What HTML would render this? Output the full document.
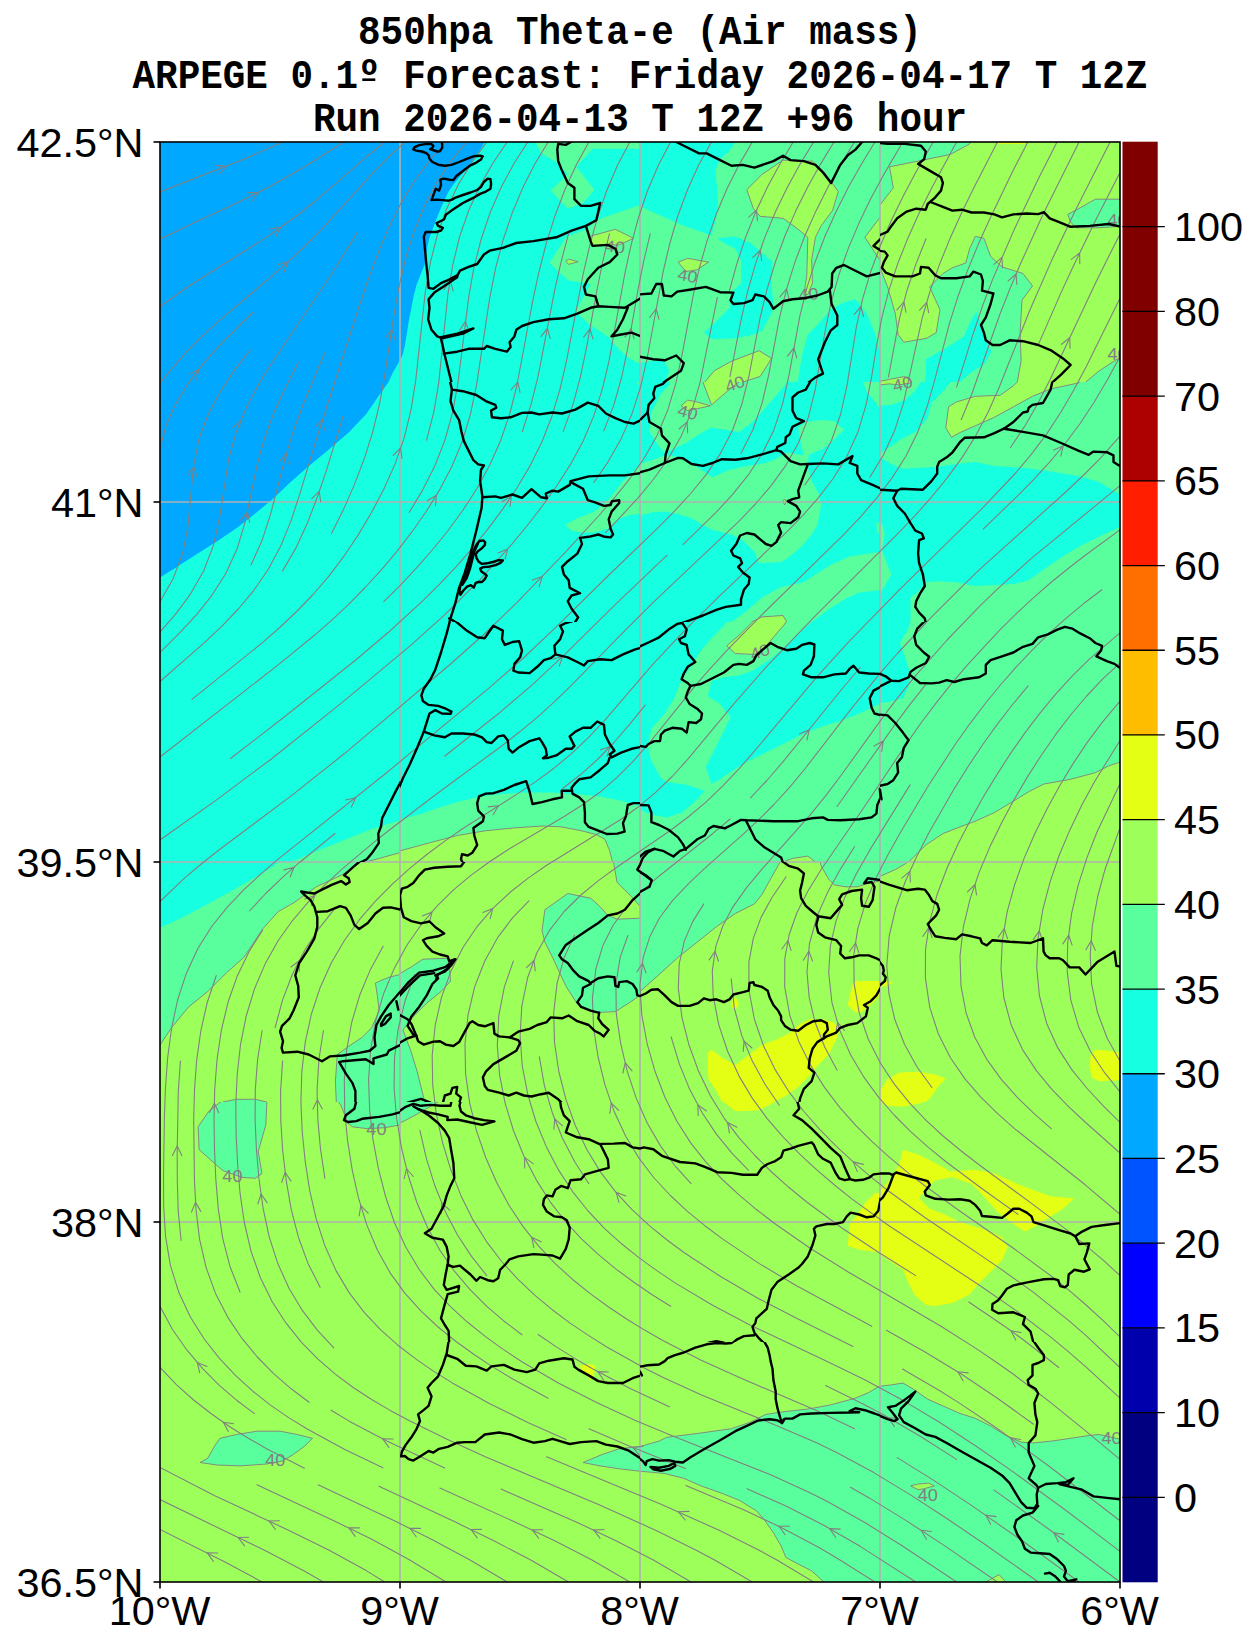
<!DOCTYPE html>
<html><head><meta charset="utf-8"><title>850hpa Theta-e</title>
<style>
html,body{margin:0;padding:0;background:#fff;}
body{width:1259px;height:1648px;overflow:hidden;font-family:"Liberation Sans",sans-serif;}
svg{display:block;}
.t{font-family:"Liberation Mono",monospace;font-weight:bold;font-size:37.6px;fill:#000;text-anchor:middle;}
.l{font-family:"Liberation Sans",sans-serif;font-size:37px;fill:#000;}
.c{font-family:"Liberation Sans",sans-serif;font-size:16px;fill:#808080;}
.s{fill:none;stroke:#808080;stroke-width:1.1;stroke-linecap:round;stroke-linejoin:round;}
.b{fill:none;stroke:#000;stroke-width:2.4;stroke-linejoin:round;stroke-linecap:round;}
.g{stroke:#b0b0b0;stroke-width:1.6;fill:none;}
.k{stroke:#808080;stroke-width:1;fill-opacity:1;}
</style></head><body>
<svg width="1259" height="1648" viewBox="0 0 1259 1648">
<rect x="0" y="0" width="1259" height="1648" fill="#ffffff"/>
<text class="t" transform="translate(640,44) scale(1,1.07)">850hpa Theta-e (Air mass)</text>
<text class="t" transform="translate(640,88.3) scale(1,1.07)">ARPEGE 0.1º Forecast: Friday 2026-04-17 T 12Z</text>
<text class="t" transform="translate(640,130.5) scale(1,1.07)">Run 2026-04-13 T 12Z +96 hour</text>
<rect x="362.3" y="78.4" width="13" height="2.6" fill="#000"/>
<defs><clipPath id="mc"><rect x="160" y="142" width="960" height="1440"/></clipPath></defs>
<g clip-path="url(#mc)">
<rect x="160" y="142" width="960" height="1440" fill="#9dff5a"/>
<clipPath id="t0"><rect x="160" y="142" width="240" height="240"/></clipPath><g clip-path="url(#t0)"><rect x="160" y="142" width="240" height="240" fill="#16ffe1"/></g>
<clipPath id="t1"><rect x="400" y="142" width="240" height="240"/></clipPath><g clip-path="url(#t1)"><rect x="400" y="142" width="240" height="240" fill="#16ffe1"/><path d="M535.3 138.2 L535.3 142.0 L541.1 153.4 L558.2 163.0 L567.8 174.4 L550.6 190.6 L567.8 208.7 L583.0 203.0 L594.4 189.7 L576.3 166.8 L583.0 159.2 L592.5 148.7 L647.8 148.7 L647.8 138.2Z" fill="#5aff9d"/><path d="M549.6 263.0 L565.8 237.3 L586.8 228.7 L598.3 219.2 L640.0 204.9 L647.8 203.0 L647.8 366.9 L640.0 364.1 L630.7 359.3 L619.2 349.8 L607.8 336.4 L588.7 324.0 L575.4 311.7 L590.6 284.0 L567.8 280.2Z" fill="#5aff9d"/><path d="M589.7 236.4 L615.4 229.3 L633.5 238.3 L619.2 244.9 L606.8 244.9 L592.5 245.9Z" fill="#9dff5a" stroke="#808080" stroke-width="0.9"/><path d="M565.8 261.1 L568.7 259.2 L578.2 261.7 L568.7 264.4Z" fill="#9dff5a" stroke="#808080" stroke-width="0.9"/></g>
<clipPath id="t2"><rect x="640" y="142" width="240" height="240"/></clipPath><g clip-path="url(#t2)"><rect x="640" y="142" width="240" height="240" fill="#5aff9d"/><path d="M636.2 138.2 L735.3 138.2 L735.3 142.0 L729.6 150.6 L720.1 159.2 L715.3 170.6 L717.2 189.7 L718.2 204.9 L715.3 222.1 L711.5 235.4 L697.2 230.6 L681.9 224.9 L666.7 218.3 L651.4 211.6 L640.0 205.9 L636.2 204.9Z" fill="#16ffe1"/><path d="M717.2 238.3 L735.3 236.4 L750.6 243.0 L763.9 254.5 L772.5 262.1 L771.5 281.2 L773.4 305.9 L771.5 313.6 L762.0 330.7 L754.4 334.5 L735.3 338.3 L712.4 339.3 L703.9 332.6 L716.3 321.2 L729.6 307.8 L730.5 294.5 L735.3 288.8 L741.0 283.1 L741.0 260.2 L735.3 248.8 L723.9 243.0Z" fill="#16ffe1"/><path d="M855.4 299.3 L866.8 313.6 L874.5 332.6 L880.0 351.7 L887.8 361.2 L887.8 389.8 L796.3 389.8 L802.0 355.5 L807.8 334.5 L819.2 323.1 L830.6 309.8 L842.1 303.1Z" fill="#16ffe1"/><path d="M636.2 363.1 L640.0 363.1 L662.9 359.3 L669.5 370.8 L664.8 382.0 L636.2 389.8Z" fill="#16ffe1"/><path d="M746.8 189.7 L762.0 174.4 L783.0 160.1 L798.2 161.1 L812.5 161.1 L823.0 170.6 L838.3 191.6 L832.5 210.6 L821.1 225.9 L815.4 237.3 L811.6 260.2 L812.5 283.1 L807.8 294.5 L803.9 294.5 L806.8 275.4 L807.8 237.3 L796.3 227.8 L783.0 218.3 L760.1 216.3 L753.4 208.7Z" fill="#9dff5a" stroke="#808080" stroke-width="0.9"/><path d="M678.1 262.1 L687.7 258.3 L708.6 262.1 L697.2 269.7 L685.8 271.6Z" fill="#9dff5a" stroke="#808080" stroke-width="0.9"/><path d="M704.8 382.0 L714.3 370.8 L731.5 361.2 L759.1 350.7 L771.5 358.4 L760.1 376.5 L742.9 382.0 L735.3 389.8 L702.9 389.8Z" fill="#9dff5a" stroke="#808080" stroke-width="0.9"/><path d="M880.0 217.3 L864.9 237.3 L880.0 260.2 L887.8 264.0 L887.8 214.4Z" fill="#9dff5a" stroke="#808080" stroke-width="0.9"/></g>
<clipPath id="t3"><rect x="880" y="142" width="240" height="240"/></clipPath><g clip-path="url(#t3)"><rect x="880" y="142" width="240" height="240" fill="#9dff5a"/><path d="M876.2 138.2 L971.5 138.2 L969.6 143.9 L950.5 154.4 L918.1 161.1 L889.5 166.8 L893.3 187.8 L880.0 204.9 L876.2 208.7Z" fill="#5aff9d" stroke="#808080" stroke-width="0.9"/><path d="M876.2 267.8 L880.0 267.8 L887.6 286.9 L895.3 313.6 L898.1 334.5 L903.8 342.2 L926.7 338.3 L936.2 332.6 L940.0 309.8 L929.6 286.9 L942.9 273.5 L952.4 267.8 L965.8 263.0 L969.6 248.8 L975.3 236.4 L983.9 238.3 L990.6 256.4 L1002.0 266.9 L1023.0 273.5 L1032.5 285.9 L1022.0 300.2 L1020.1 332.6 L1021.1 361.2 L1017.3 382.0 L1017.3 389.8 L876.2 389.8Z" fill="#5aff9d" stroke="#808080" stroke-width="0.9"/><path d="M1067.8 214.4 L1070.6 222.1 L1076.3 227.8 L1097.3 227.8 L1127.8 225.9 L1127.8 199.2 L1095.4 199.2 L1080.2 207.8Z" fill="#5aff9d" stroke="#808080" stroke-width="0.9"/><path d="M1120.0 357.4 L1099.2 370.8 L1085.9 382.0 L1082.1 389.8 L1127.8 389.8 L1127.8 351.7Z" fill="#5aff9d" stroke="#808080" stroke-width="0.9"/><path d="M876.2 382.0 L889.5 379.3 L904.8 376.5 L912.4 382.0 L912.4 389.8 L876.2 389.8Z" fill="#9dff5a" stroke="#808080" stroke-width="0.9"/><path d="M925.8 359.3 L942.9 349.8 L963.9 336.4 L969.6 323.1 L976.3 311.7 L983.9 332.6 L991.5 351.7 L984.8 364.1 L969.6 373.6 L960.1 382.0 L956.3 389.8 L923.8 389.8 L925.8 370.8Z" fill="#16ffe1"/><path d="M998.2 141.0 L1024.9 141.0 L1024.9 143.9 L998.2 143.9Z" fill="#e4ff13"/></g>
<clipPath id="t4"><rect x="160" y="382" width="240" height="240"/></clipPath><g clip-path="url(#t4)"><rect x="160" y="382" width="240" height="240" fill="#16ffe1"/></g>
<clipPath id="t5"><rect x="400" y="382" width="240" height="240"/></clipPath><g clip-path="url(#t5)"><rect x="400" y="382" width="240" height="240" fill="#16ffe1"/><path d="M564.9 525.0 L577.3 518.3 L594.4 511.6 L609.7 498.3 L623.0 481.1 L640.0 464.9 L647.8 458.3 L647.8 511.6 L640.0 513.5 L628.8 515.4 L617.3 519.3 L607.8 528.8 L594.4 532.6 L581.1 532.6 L571.6 530.7Z" fill="#5aff9d"/><path d="M635.4 378.2 L637.3 383.9 L647.8 387.7 L647.8 378.2Z" fill="#5aff9d"/></g>
<clipPath id="t6"><rect x="640" y="382" width="240" height="240"/></clipPath><g clip-path="url(#t6)"><rect x="640" y="382" width="240" height="240" fill="#16ffe1"/><path d="M670.5 378.2 L668.6 385.8 L661.0 393.4 L651.4 412.5 L649.5 431.6 L659.1 446.8 L664.8 452.9 L685.8 443.0 L697.2 435.4 L710.5 427.8 L725.8 429.7 L739.1 431.9 L752.5 422.0 L769.6 403.0 L781.1 389.6 L790.6 378.2Z" fill="#5aff9d"/><path d="M636.2 464.4 L640.0 464.0 L651.4 460.2 L664.8 455.4 L681.9 457.3 L695.3 465.9 L712.4 477.3 L729.6 469.7 L746.8 465.9 L765.8 463.0 L777.3 458.3 L786.8 452.5 L803.9 455.4 L801.1 444.9 L798.2 427.8 L805.8 422.0 L821.1 420.1 L834.4 421.1 L844.0 429.7 L834.4 439.2 L823.0 448.7 L808.7 454.8 L807.8 467.8 L811.6 481.1 L819.2 494.5 L821.1 505.9 L817.3 525.0 L811.6 534.5 L802.0 545.9 L788.7 557.4 L781.1 562.1 L759.1 563.1 L754.4 551.7 L742.9 540.2 L731.5 534.5 L712.4 529.7 L701.0 524.0 L691.5 518.3 L676.2 513.5 L662.9 511.6 L651.4 512.6 L640.0 515.4 L636.2 515.4Z" fill="#5aff9d"/><path d="M731.5 629.8 L731.5 622.0 L746.8 610.8 L762.0 597.4 L781.1 586.9 L803.9 582.2 L815.4 574.5 L830.6 565.0 L849.7 556.4 L880.0 551.7 L887.8 550.7 L887.8 589.8 L880.0 590.2 L859.2 592.6 L845.9 598.4 L830.6 607.9 L811.6 622.0 L807.8 629.8Z" fill="#5aff9d"/><path d="M863.0 378.2 L863.0 382.0 L866.8 391.5 L874.5 401.1 L880.0 408.7 L887.8 410.6 L887.8 378.2Z" fill="#5aff9d"/><path d="M876.4 523.1 L887.8 519.3 L887.8 536.4 L877.3 532.6Z" fill="#5aff9d"/><path d="M702.9 382.0 L711.5 404.9 L724.8 393.4 L731.5 387.7 L739.1 382.0 L739.1 378.2 L702.9 378.2Z" fill="#9dff5a" stroke="#808080" stroke-width="0.9"/><path d="M681.0 405.8 L687.7 400.1 L697.2 402.0 L710.5 405.8 L697.2 408.7 L687.7 410.6Z" fill="#9dff5a" stroke="#808080" stroke-width="0.9"/><path d="M751.5 622.0 L762.0 616.9 L783.0 615.5 L786.8 622.0 L786.8 629.8 L751.5 629.8Z" fill="#9dff5a" stroke="#808080" stroke-width="0.9"/><path d="M783.0 500.6 L784.9 499.2 L786.4 502.1 L784.5 505.0Z" fill="#9dff5a" stroke="#808080" stroke-width="0.9"/></g>
<clipPath id="t7"><rect x="880" y="382" width="240" height="240"/></clipPath><g clip-path="url(#t7)"><rect x="880" y="382" width="240" height="240" fill="#5aff9d"/><path d="M876.2 405.8 L891.4 404.9 L904.8 400.1 L914.3 391.5 L921.0 382.0 L922.9 378.2 L953.4 378.2 L950.5 382.0 L942.9 391.5 L931.5 403.0 L927.7 418.2 L916.2 431.6 L901.0 439.2 L887.6 448.7 L880.0 453.5 L876.2 454.4Z" fill="#16ffe1"/><path d="M876.2 455.4 L880.0 457.3 L891.4 464.0 L902.9 468.7 L937.2 466.8 L956.3 464.0 L975.3 462.1 L994.4 465.9 L1023.0 467.8 L1051.6 471.6 L1080.2 476.4 L1099.2 482.1 L1120.0 494.5 L1127.8 498.3 L1127.8 523.1 L1120.0 526.9 L1099.2 536.4 L1080.2 545.9 L1061.1 557.4 L1042.0 570.7 L1028.7 580.3 L1013.4 584.1 L994.4 585.0 L975.3 586.0 L956.3 582.2 L937.2 581.2 L925.8 582.2 L918.1 591.7 L910.5 597.4 L910.5 629.8 L876.2 629.8Z" fill="#16ffe1"/><path d="M876.2 523.1 L881.9 524.0 L884.8 534.5 L881.9 549.8 L887.6 565.0 L891.4 574.5 L885.7 584.1 L880.0 593.6 L876.2 593.6Z" fill="#5aff9d"/><path d="M945.8 427.8 L948.6 406.8 L956.3 402.0 L975.3 396.3 L1000.1 395.3 L1013.4 385.8 L1021.1 378.2 L1085.9 378.2 L1078.3 383.0 L1051.6 388.7 L1032.5 396.3 L1013.4 406.8 L994.4 417.3 L975.3 425.8 L960.1 432.5 L951.5 437.3Z" fill="#9dff5a" stroke="#808080" stroke-width="0.9"/><path d="M876.2 378.2 L913.4 378.2 L910.5 383.0 L899.1 384.9 L889.5 383.9 L880.0 384.9 L876.2 385.8Z" fill="#9dff5a" stroke="#808080" stroke-width="0.9"/></g>
<clipPath id="t8"><rect x="160" y="622" width="240" height="240"/></clipPath><g clip-path="url(#t8)"><rect x="160" y="622" width="240" height="240" fill="#16ffe1"/><path d="M291.5 862.0 L312.5 852.7 L341.1 841.2 L369.7 829.8 L400.0 820.3 L407.8 818.3 L407.8 869.8 L291.5 869.8Z" fill="#5aff9d"/><path d="M365.9 862.0 L400.0 852.7 L407.8 850.8 L407.8 869.8 L350.6 869.8Z" fill="#9dff5a" stroke="#808080" stroke-width="0.9"/></g>
<clipPath id="t9"><rect x="400" y="622" width="240" height="240"/></clipPath><g clip-path="url(#t9)"><rect x="400" y="622" width="240" height="240" fill="#16ffe1"/><path d="M396.2 820.3 L400.0 819.3 L419.1 814.5 L438.1 807.9 L457.2 802.1 L476.3 797.4 L495.3 794.5 L523.9 792.6 L552.5 792.6 L581.1 794.5 L600.2 796.4 L619.2 800.2 L640.0 806.0 L647.8 807.9 L647.8 869.8 L396.2 869.8Z" fill="#5aff9d"/><path d="M396.2 851.7 L400.0 850.8 L428.6 843.1 L457.2 835.5 L485.8 830.7 L514.4 827.9 L543.0 826.0 L562.0 826.9 L581.1 830.7 L596.3 834.5 L604.9 839.3 L609.7 850.8 L612.5 862.0 L613.5 869.8 L396.2 869.8Z" fill="#9dff5a" stroke="#808080" stroke-width="0.9"/></g>
<clipPath id="t10"><rect x="640" y="622" width="240" height="240"/></clipPath><g clip-path="url(#t10)"><rect x="640" y="622" width="240" height="240" fill="#5aff9d"/><path d="M636.2 618.2 L729.6 618.2 L723.9 625.8 L712.4 637.3 L701.0 650.6 L691.5 665.8 L681.9 679.2 L674.3 698.3 L664.8 713.5 L651.4 728.8 L647.6 745.9 L651.4 761.2 L661.0 778.3 L666.7 782.1 L687.7 785.0 L704.8 790.7 L695.3 801.2 L681.9 812.6 L666.7 817.4 L651.4 814.5 L640.0 809.8 L636.2 808.8Z" fill="#16ffe1"/><path d="M711.5 784.0 L705.8 766.9 L716.3 745.9 L730.5 717.3 L720.1 704.0 L707.7 696.3 L711.5 681.1 L723.9 677.3 L739.1 675.4 L754.4 669.7 L771.5 658.2 L784.9 646.8 L798.2 633.4 L811.6 622.0 L815.4 618.2 L887.8 618.2 L887.8 702.1 L880.0 704.0 L859.2 713.5 L840.2 721.1 L821.1 726.8 L802.0 734.5 L783.0 744.0 L763.9 753.5 L744.8 763.1 L729.6 772.6 L720.1 779.3Z" fill="#16ffe1"/><path d="M726.7 645.8 L739.1 635.3 L752.5 622.0 L756.3 618.2 L786.8 618.2 L784.9 623.9 L773.4 637.3 L763.9 648.7 L754.4 654.4 L735.3 653.5Z" fill="#9dff5a" stroke="#808080" stroke-width="0.9"/><path d="M783.0 862.0 L792.5 858.4 L807.8 856.1 L815.4 862.0 L815.4 869.8 L783.0 869.8Z" fill="#9dff5a" stroke="#808080" stroke-width="0.9"/></g>
<clipPath id="t11"><rect x="880" y="622" width="240" height="240"/></clipPath><g clip-path="url(#t11)"><rect x="880" y="622" width="240" height="240" fill="#5aff9d"/><path d="M876.2 618.2 L911.5 618.2 L908.6 627.7 L900.0 643.0 L904.8 656.3 L909.5 671.6 L908.6 686.8 L902.9 698.3 L887.6 702.1 L880.0 703.0 L876.2 703.0Z" fill="#16ffe1"/><path d="M908.6 862.0 L925.8 845.0 L942.9 833.6 L960.1 826.9 L975.3 821.2 L994.4 812.6 L1013.4 801.2 L1028.7 791.7 L1043.9 784.0 L1070.6 779.3 L1095.4 772.6 L1108.8 765.9 L1120.0 762.1 L1127.8 759.3 L1127.8 869.8 L901.0 869.8Z" fill="#9dff5a" stroke="#808080" stroke-width="0.9"/></g>
<clipPath id="t12"><rect x="160" y="862" width="240" height="240"/></clipPath><g clip-path="url(#t12)"><rect x="160" y="862" width="240" height="240" fill="#5aff9d"/><path d="M156.2 858.2 L282.0 858.2 L274.4 865.8 L255.3 877.3 L232.4 890.6 L207.7 903.9 L182.9 917.3 L160.0 927.8 L156.2 928.7Z" fill="#16ffe1"/><path d="M365.9 858.2 L358.3 863.9 L341.1 875.3 L316.3 886.8 L293.4 903.0 L278.2 911.6 L262.9 928.7 L243.9 957.3 L226.7 972.6 L207.7 991.6 L188.6 1006.9 L171.4 1027.8 L160.0 1045.0 L156.2 1050.7 L156.2 1109.8 L224.8 1109.8 L222.9 1102.0 L236.3 1099.3 L255.3 1099.3 L266.8 1102.0 L268.7 1109.8 L337.3 1109.8 L336.3 1102.0 L335.4 1081.2 L337.3 1054.5 L350.6 1045.0 L362.1 1037.4 L371.6 1027.8 L379.2 1010.7 L377.3 995.4 L375.4 983.0 L388.8 977.3 L400.0 974.5 L407.8 972.6 L407.8 858.2Z" fill="#9dff5a" stroke="#808080" stroke-width="0.9"/></g>
<clipPath id="t13"><rect x="400" y="862" width="240" height="240"/></clipPath><g clip-path="url(#t13)"><rect x="400" y="862" width="240" height="240" fill="#9dff5a"/><path d="M612.5 858.2 L613.5 862.0 L617.1 882.4 L631.2 896.3 L644.0 910.6 L647.8 910.6 L647.8 858.2Z" fill="#5aff9d" stroke="#808080" stroke-width="0.9"/><path d="M542.0 930.6 L544.9 909.7 L567.8 893.5 L590.6 898.2 L600.2 906.8 L607.8 915.4 L617.3 919.2 L640.0 918.2 L647.8 918.2 L647.8 993.5 L640.0 995.4 L628.8 1003.1 L615.4 1011.6 L594.4 1012.6 L577.3 1004.0 L565.8 985.9 L552.5 957.3 L544.9 942.1Z" fill="#5aff9d" stroke="#808080" stroke-width="0.9"/><path d="M396.2 974.5 L400.0 973.5 L411.4 966.8 L422.9 959.2 L447.7 958.3 L449.6 968.8 L450.5 981.1 L441.0 991.6 L426.7 1003.1 L415.3 1014.5 L407.6 1024.0 L402.9 1029.8 L411.4 1052.6 L417.2 1071.7 L424.8 1102.0 L424.8 1109.8 L396.2 1109.8Z" fill="#5aff9d" stroke="#808080" stroke-width="0.9"/></g>
<clipPath id="t14"><rect x="640" y="862" width="240" height="240"/></clipPath><g clip-path="url(#t14)"><rect x="640" y="862" width="240" height="240" fill="#9dff5a"/><path d="M636.2 858.2 L781.1 858.2 L780.1 862.0 L771.5 877.3 L762.0 894.4 L754.4 903.9 L735.3 913.5 L716.3 926.8 L697.2 942.1 L678.1 957.3 L659.1 974.5 L640.0 991.6 L636.2 995.4Z" fill="#5aff9d" stroke="#808080" stroke-width="0.9"/><path d="M819.2 858.2 L821.1 865.8 L828.7 879.2 L834.4 884.9 L845.9 886.8 L857.3 886.8 L868.8 883.0 L880.0 881.1 L887.8 880.1 L887.8 858.2Z" fill="#5aff9d" stroke="#808080" stroke-width="0.9"/><path d="M707.7 1052.6 L711.5 1049.8 L722.0 1057.4 L735.3 1065.0 L746.8 1056.4 L762.0 1045.0 L777.3 1039.3 L788.7 1033.6 L800.1 1024.0 L809.7 1019.3 L823.0 1019.3 L832.5 1022.1 L840.2 1027.8 L836.3 1039.3 L828.7 1054.5 L817.3 1066.0 L807.8 1077.4 L798.2 1086.9 L784.9 1096.5 L773.4 1102.0 L769.6 1109.8 L723.9 1109.8 L722.0 1102.0 L716.3 1090.8 L708.6 1079.3 L707.7 1067.9Z" fill="#e4ff13"/><path d="M852.5 984.0 L855.4 981.1 L880.0 981.1 L887.8 981.1 L887.8 991.6 L880.0 995.4 L872.6 1003.1 L861.1 1012.6 L855.4 1012.6 L847.8 1005.0 L849.7 995.4Z" fill="#e4ff13"/><path d="M731.5 1003.1 L735.3 996.4 L739.1 1004.0 L735.3 1009.7 L731.1 1006.9Z" fill="#e4ff13"/></g>
<clipPath id="t15"><rect x="880" y="862" width="240" height="240"/></clipPath><g clip-path="url(#t15)"><rect x="880" y="862" width="240" height="240" fill="#9dff5a"/><path d="M876.2 858.2 L908.6 858.2 L906.7 863.0 L895.3 869.6 L880.0 876.3 L876.2 877.3Z" fill="#5aff9d" stroke="#808080" stroke-width="0.9"/><path d="M876.2 1090.8 L880.0 1090.8 L887.6 1079.3 L899.1 1072.6 L918.1 1071.7 L935.3 1074.5 L945.8 1078.4 L937.2 1087.9 L931.5 1096.5 L925.8 1102.0 L923.8 1109.8 L876.2 1109.8Z" fill="#e4ff13"/><path d="M1090.6 1054.5 L1095.4 1049.8 L1108.8 1050.7 L1120.0 1052.6 L1127.8 1052.6 L1127.8 1081.2 L1120.0 1080.3 L1099.2 1081.2 L1091.6 1077.4 L1089.7 1066.0Z" fill="#e4ff13"/><path d="M876.2 984.0 L883.8 981.1 L893.3 982.5 L887.6 985.0 L880.0 987.8 L876.2 987.8Z" fill="#e4ff13"/></g>
<clipPath id="t16"><rect x="160" y="1102" width="240" height="240"/></clipPath><g clip-path="url(#t16)"><rect x="160" y="1102" width="240" height="240" fill="#9dff5a"/><path d="M198.1 1126.8 L208.6 1111.5 L222.9 1100.1 L222.9 1098.2 L266.8 1098.2 L266.8 1103.9 L265.8 1124.9 L258.2 1151.6 L262.0 1173.5 L255.3 1178.3 L242.0 1177.3 L222.9 1170.6 L207.7 1157.3 L199.1 1149.7Z" fill="#5aff9d" stroke="#808080" stroke-width="0.9"/><path d="M336.3 1098.2 L341.1 1105.8 L347.8 1123.0 L352.5 1126.8 L367.8 1128.7 L384.9 1127.7 L400.0 1124.9 L407.8 1123.0 L407.8 1098.2Z" fill="#5aff9d" stroke="#808080" stroke-width="0.9"/></g>
<clipPath id="t17"><rect x="400" y="1102" width="240" height="240"/></clipPath><g clip-path="url(#t17)"><rect x="400" y="1102" width="240" height="240" fill="#9dff5a"/><path d="M396.2 1098.2 L441.0 1098.2 L438.1 1102.0 L424.8 1109.6 L411.4 1117.3 L400.0 1123.0 L396.2 1123.9Z" fill="#5aff9d" stroke="#808080" stroke-width="0.9"/></g>
<clipPath id="t18"><rect x="640" y="1102" width="240" height="240"/></clipPath><g clip-path="url(#t18)"><rect x="640" y="1102" width="240" height="240" fill="#9dff5a"/><path d="M723.9 1098.2 L723.9 1102.0 L735.3 1111.2 L758.2 1110.6 L773.4 1103.0 L777.3 1098.2Z" fill="#e4ff13"/><path d="M880.0 1192.5 L874.5 1193.5 L864.9 1203.0 L857.3 1214.5 L849.7 1224.0 L847.8 1245.9 L859.2 1249.7 L880.0 1252.6 L887.8 1253.5 L887.8 1191.6Z" fill="#e4ff13"/></g>
<clipPath id="t19"><rect x="880" y="1102" width="240" height="240"/></clipPath><g clip-path="url(#t19)"><rect x="880" y="1102" width="240" height="240" fill="#9dff5a"/><path d="M876.2 1098.2 L923.8 1098.2 L921.9 1103.0 L902.9 1106.8 L887.6 1105.8 L880.0 1102.0 L876.2 1102.0Z" fill="#e4ff13"/><path d="M876.2 1191.6 L880.0 1190.6 L891.4 1178.3 L899.1 1164.9 L902.9 1149.7 L918.1 1154.4 L935.3 1163.0 L950.5 1171.6 L975.3 1169.7 L994.4 1173.5 L1013.4 1182.1 L1032.5 1189.7 L1051.6 1196.4 L1074.4 1198.3 L1063.0 1208.8 L1047.8 1218.3 L1036.3 1225.9 L1024.9 1231.6 L1013.4 1224.0 L998.2 1212.6 L979.1 1191.6 L971.5 1184.0 L952.4 1177.3 L935.3 1180.2 L925.8 1189.7 L919.1 1198.3 L929.6 1208.8 L944.8 1214.5 L960.1 1222.1 L979.1 1227.8 L994.4 1233.5 L1002.0 1237.3 L1007.7 1246.9 L1002.0 1260.2 L990.6 1271.7 L979.1 1283.1 L969.6 1294.5 L952.4 1303.1 L935.3 1306.0 L925.8 1305.0 L914.3 1294.5 L906.7 1279.3 L902.9 1269.8 L891.4 1262.1 L880.0 1254.5 L876.2 1252.6Z" fill="#e4ff13"/></g>
<clipPath id="t20"><rect x="160" y="1342" width="240" height="240"/></clipPath><g clip-path="url(#t20)"><rect x="160" y="1342" width="240" height="240" fill="#9dff5a"/><path d="M200.0 1462.5 L207.7 1458.3 L215.3 1444.9 L220.0 1438.3 L236.3 1434.5 L257.2 1431.2 L280.1 1431.2 L297.3 1434.5 L312.5 1438.3 L304.9 1445.9 L293.4 1454.5 L282.0 1461.1 L266.8 1464.0 L240.1 1465.9 L217.2 1465.0Z" fill="#5aff9d" stroke="#808080" stroke-width="0.9"/></g>
<clipPath id="t21"><rect x="400" y="1342" width="240" height="240"/></clipPath><g clip-path="url(#t21)"><rect x="400" y="1342" width="240" height="240" fill="#9dff5a"/><path d="M583.0 1462.5 L602.1 1454.5 L619.2 1448.8 L640.0 1446.5 L647.8 1445.9 L647.8 1471.6 L640.0 1471.2 L619.2 1468.8 L600.2 1465.9Z" fill="#5aff9d" stroke="#808080" stroke-width="0.9"/><path d="M579.2 1365.8 L588.7 1363.9 L595.4 1365.8 L593.5 1377.3 L590.6 1380.1 L584.9 1372.5Z" fill="#e4ff13"/></g>
<clipPath id="t22"><rect x="640" y="1342" width="240" height="240"/></clipPath><g clip-path="url(#t22)"><rect x="640" y="1342" width="240" height="240" fill="#9dff5a"/><path d="M636.2 1447.8 L640.0 1446.5 L659.1 1441.1 L666.7 1437.3 L697.2 1433.5 L731.5 1428.7 L750.6 1422.1 L765.8 1414.4 L784.9 1411.6 L807.8 1409.1 L830.6 1404.9 L855.4 1398.2 L868.8 1392.5 L880.0 1385.8 L887.8 1381.1 L887.8 1589.8 L826.8 1589.8 L824.0 1582.0 L811.6 1570.8 L798.2 1564.1 L785.8 1557.4 L781.1 1546.0 L773.4 1532.6 L763.9 1519.3 L756.3 1510.7 L739.1 1500.2 L720.1 1492.6 L701.0 1485.9 L683.8 1478.3 L664.8 1473.5 L640.0 1471.2 L636.2 1471.2Z" fill="#5aff9d" stroke="#808080" stroke-width="0.9"/></g>
<clipPath id="t23"><rect x="880" y="1342" width="240" height="240"/></clipPath><g clip-path="url(#t23)"><rect x="880" y="1342" width="240" height="240" fill="#5aff9d"/><path d="M876.2 1386.8 L880.0 1386.2 L891.4 1384.9 L902.9 1383.0 L914.3 1389.7 L927.7 1399.2 L942.9 1405.9 L960.1 1413.5 L975.3 1418.3 L990.6 1425.9 L1005.8 1435.4 L1021.1 1442.1 L1032.5 1443.0 L1051.6 1441.1 L1070.6 1438.3 L1089.7 1435.4 L1099.2 1434.5 L1120.0 1439.2 L1127.8 1441.1 L1127.8 1338.2 L876.2 1338.2Z" fill="#9dff5a" stroke="#808080" stroke-width="0.9"/><path d="M910.5 1485.9 L918.1 1484.0 L928.6 1483.1 L934.3 1485.9 L923.8 1488.8 L918.1 1489.7Z" fill="#9dff5a" stroke="#808080" stroke-width="0.9"/><path d="M985.8 1582.0 L999.1 1574.6 L1005.8 1582.0 L1005.8 1589.8 L984.8 1589.8Z" fill="#9dff5a" stroke="#808080" stroke-width="0.9"/></g>
<path d="M150.0 132.0 L484.8 132.0 L484.8 142.0 L479.1 151.5 L472.4 160.6 L466.7 168.7 L460.1 176.3 L453.4 184.4 L448.6 191.6 L444.8 199.2 L441.0 207.8 L438.1 214.9 L435.3 222.1 L432.4 229.7 L429.6 237.3 L427.6 245.0 L426.5 252.6 L425.8 262.0 L421.0 273.4 L416.3 285.8 L413.4 297.3 L411.0 309.7 L408.6 322.1 L406.7 334.4 L404.8 345.9 L402.4 355.4 L397.2 365.0 L392.4 373.5 L388.6 382.0 L379.2 395.3 L365.9 414.4 L348.7 432.5 L327.7 450.6 L306.8 467.8 L289.6 483.0 L272.5 499.2 L255.3 513.5 L238.2 526.9 L217.2 541.2 L196.2 554.5 L175.2 567.9 L160.0 577.4 L150.0 583.0 Z" fill="#00a8ff"/>
<line class="g" x1="400" y1="142" x2="400" y2="1582"/>
<line class="g" x1="640" y1="142" x2="640" y2="1582"/>
<line class="g" x1="880" y1="142" x2="880" y2="1582"/>
<line class="g" x1="160" y1="502" x2="1120" y2="502"/>
<line class="g" x1="160" y1="862" x2="1120" y2="862"/>
<line class="g" x1="160" y1="1222" x2="1120" y2="1222"/>
<path class="s" d="M262.1 1582.0L224.5 1561.7L160.0 1529.4M323.4 1582.0L304.7 1571.2L267.0 1551.5L160.0 1499.6M384.7 1582.0L366.2 1570.6L328.7 1549.9L290.6 1531.2L214.3 1495.4L160.0 1467.4M446.0 1582.0L408.9 1559.5L371.3 1539.1L333.3 1520.4L256.9 1484.8M507.2 1582.0L470.0 1560.0L432.4 1539.8L394.4 1520.7L318.1 1484.8M568.5 1582.0L531.2 1560.3L493.4 1540.6L455.4 1522.1L379.0 1486.3M629.8 1582.0L592.5 1560.3L554.7 1540.8L516.5 1522.7L439.9 1488.1M691.1 1582.0L653.8 1560.3L616.0 1540.7L577.8 1522.7L501.0 1489.1M752.3 1582.0L715.1 1560.2L696.2 1550.2L658.2 1531.4L600.8 1505.6L485.3 1456.7L447.0 1439.3L409.0 1420.6L390.2 1410.4L371.6 1399.5L353.2 1387.5L335.3 1374.1L318.0 1359.2L301.5 1342.3L286.1 1323.2L272.2 1301.7L260.4 1277.7L251.0 1251.2L244.4 1223.0L240.1 1193.7L237.6 1164.0L236.1 1134.1L235.8 1104.1L237.2 1074.2L240.5 1044.7L246.2 1016.0L254.5 988.8L265.3 963.6L278.1 940.8L292.7 920.3L308.4 901.8L324.9 884.9L342.0 869.2L376.8 839.8L430.2 798.7L502.0 745.7L519.7 731.8L537.2 717.3L554.3 701.8L571.1 685.6L620.7 634.8L654.0 601.7L738.6 521.7L755.0 504.5L770.8 486.1L785.5 465.9L798.4 443.0L808.4 417.2L815.3 389.2L825.1 331.0L831.1 302.4L838.9 274.8L848.3 248.4L859.0 223.1L870.7 198.8L883.3 175.4L902.8 142.0M813.6 1582.0L776.5 1559.8L757.7 1549.5L719.7 1530.5L662.2 1504.8L546.6 1456.7M874.9 1582.0L838.0 1558.8L819.4 1547.8L781.7 1527.7L743.6 1509.7L685.8 1485.5M915.7 1582.0L860.6 1546.6L823.3 1525.0L785.4 1505.8L747.0 1488.8M956.6 1582.0L901.7 1545.5L864.8 1522.5L827.4 1501.5L808.4 1491.9L770.1 1474.6L673.4 1436.3L634.9 1420.2L596.6 1402.6L558.8 1383.3L521.5 1361.5L503.2 1349.4L485.2 1336.4L467.6 1322.3L450.5 1306.7L434.2 1289.3L419.2 1269.5L405.9 1247.3L394.5 1222.7L385.4 1196.0L378.3 1168.1L372.9 1139.2L369.6 1109.6L368.6 1079.8L370.6 1050.0L375.6 1021.1L383.6 993.7L394.2 968.4L406.9 945.3L421.3 924.5L437.0 906.1L453.8 889.7L471.2 875.1L489.2 862.0L507.5 850.0L563.4 817.0L581.8 805.3L599.8 792.3L617.1 777.4L633.7 760.7L649.6 742.6L695.8 685.1L711.7 666.8L727.9 649.3L761.0 615.6L844.7 533.6L861.0 516.3L876.8 497.9L891.9 478.1L905.7 456.5L917.6 432.5L927.2 406.3L935.1 378.7L949.6 322.8L958.2 295.8L967.9 269.6L978.4 244.1L989.6 219.2L1013.1 170.6L1027.8 142.0M997.4 1582.0L942.9 1544.6L906.2 1520.6L869.2 1497.9L850.5 1487.3M1038.3 1582.0L984.0 1543.7L947.6 1519.0L910.9 1495.1L873.8 1472.6L836.1 1452.3L817.1 1443.1L778.7 1426.4L701.5 1395.1L663.2 1377.6L644.3 1368.0L606.8 1347.0L588.4 1335.4L570.1 1323.1L552.2 1309.7L534.7 1295.2L517.8 1279.2L501.7 1261.5L486.7 1241.8L473.0 1219.9L461.1 1195.9L450.9 1170.1L442.6 1142.9L436.4 1114.5L432.7 1085.0L432.2 1055.2L435.1 1025.7L441.5 997.4L451.0 971.1L463.1 947.3L477.3 926.3L493.1 908.1L510.1 892.3L527.8 878.4L545.9 865.8L619.9 820.0L637.9 807.2L655.4 792.7L672.2 776.5L688.3 758.7L735.1 702.4L767.0 666.1L816.3 614.8L899.6 531.9L916.0 514.6L931.9 496.6L947.4 477.6L962.2 457.4L975.8 435.6L988.2 412.0L999.3 387.0L1030.0 309.7L1052.0 259.6L1075.2 210.8L1110.1 142.0M1079.1 1582.0L1025.1 1542.8L970.7 1504.9L934.2 1480.6L897.2 1457.6M1120.0 1582.0L1048.3 1528.8L994.1 1490.1M1120.0 1551.4L1066.4 1510.8L1012.5 1471.4L976.2 1446.2L939.5 1422.3L902.4 1400.1L864.7 1379.8L826.7 1361.2L750.4 1325.2L712.6 1305.3L675.5 1283.1L657.2 1270.9L639.2 1257.9L621.6 1243.8L604.4 1228.3L588.1 1211.0L572.8 1191.8L558.8 1170.4L546.4 1146.9L535.9 1121.5L527.7 1094.2L522.2 1065.5L520.1 1035.8L521.8 1006.1L527.6 977.8L536.8 953.0L549.1 930.9L564.2 911.5L580.9 895.0L598.4 880.6L616.4 867.5L671.0 830.0L688.8 816.5L706.2 801.8L723.1 785.6L739.4 768.3L755.3 750.1L818.0 675.6L850.3 640.1L899.8 589.4L983.4 507.2L1016.1 472.5L1031.7 453.8L1046.7 433.9L1060.7 412.5L1073.8 390.0L1086.3 366.5L1120.0 298.3M1120.0 1520.7L1048.8 1466.0L994.8 1426.8L958.3 1402.4L939.8 1390.8L902.5 1369.1M1120.0 1459.4L1085.0 1430.3L1049.8 1401.9L1014.1 1374.8L996.0 1362.0L977.8 1349.6L941.0 1326.3L847.8 1271.7L810.9 1248.7L774.6 1223.5L756.8 1209.8L739.3 1195.2L722.3 1179.5L706.0 1162.2L690.7 1142.9L676.9 1121.3L664.9 1097.3L655.0 1071.3L647.2 1043.8L641.8 1015.0L639.9 985.4L643.1 957.7L650.1 935.9L659.8 917.5L672.5 900.6L688.8 883.3L705.8 867.4L740.2 836.9L757.3 821.2L773.9 804.5L790.0 786.8L805.6 768.0L851.0 709.2L881.9 671.2L897.9 653.0L930.4 618.2L963.7 584.8L980.5 568.7L1066.3 491.5L1083.2 475.5L1099.8 458.8L1120.0 436.2M1120.0 1398.2L1085.9 1366.9L1068.6 1351.8L1051.1 1337.4L1015.4 1310.1L979.1 1285.0L887.5 1224.8L851.5 1198.6L833.9 1184.5L816.5 1169.6L799.5 1153.8L783.0 1136.9L767.2 1118.6L752.4 1098.4L739.1 1076.1L727.7 1051.5L718.8 1024.8L713.2 996.2L712.3 971.1L715.8 946.4L722.9 925.7L732.8 907.1L746.6 887.6L762.2 868.9L810.2 814.9L825.6 795.9L840.6 776.0L884.6 714.9L899.7 695.2L915.2 676.2L947.1 640.0L980.0 605.9L996.8 589.6L1031.1 558.7L1120.0 485.6M1120.0 1367.5L1086.1 1335.6L1068.8 1320.6L1033.5 1292.4L997.4 1266.6L924.5 1217.2L888.5 1191.0L870.9 1176.9L853.5 1162.1L836.4 1146.4L819.9 1129.6L803.9 1111.5L788.9 1091.7L775.3 1069.9L763.5 1045.7L754.4 1019.2L749.0 990.5L748.9 962.2L753.3 938.4L761.0 917.6L771.8 897.7L786.1 876.8M1120.0 1336.9L1103.2 1320.6L1086.1 1305.0L1068.8 1290.1L1051.1 1276.0L1015.2 1249.5L960.8 1211.7L924.8 1185.7L907.0 1171.9L889.5 1157.3L872.4 1141.9L855.7 1125.3L839.7 1107.3L824.7 1087.6L810.9 1065.9L799.0 1041.9L789.8 1015.4L784.7 986.6L784.8 958.7L789.2 934.5L796.9 912.7L807.8 891.3L821.3 869.3L864.4 806.7L906.9 743.1L921.4 722.5L936.4 702.6L951.7 683.3L967.5 664.8L999.9 629.8L1016.6 613.3L1033.6 597.6L1050.9 582.5L1068.5 568.2L1086.3 554.5L1120.0 529.9M1120.0 1275.6L1102.9 1259.9L1068.0 1230.9L1032.2 1203.9L978.4 1164.3L960.6 1150.5L943.1 1136.0L926.1 1120.3L909.7 1103.1L894.3 1084.1L880.2 1062.8L868.2 1039.0L859.1 1012.4L854.1 983.6L853.8 955.0L857.7 928.9L865.1 904.1L875.7 878.8L887.8 854.9L900.7 832.0L927.4 787.3L955.3 744.3L969.8 723.8L984.9 704.0L1000.4 685.0L1016.3 666.9L1032.6 649.6L1049.4 633.2L1066.5 617.8L1084.0 603.3L1101.9 589.8M1120.0 1214.3L1085.2 1184.8L1014.5 1128.6L997.3 1113.4L980.6 1096.9L964.8 1078.6L950.4 1057.8L938.4 1034.0L929.7 1007.2L925.4 978.1L925.5 949.6L929.6 921.9L937.2 894.2L947.0 868.2L958.3 843.5L970.6 819.7L983.4 796.8L996.9 774.6L1010.8 753.1L1025.3 732.4L1040.4 712.7L1055.9 693.9L1072.1 676.2L1088.8 659.7L1120.0 632.8M1120.0 1153.1L1085.6 1122.5L1068.6 1106.6L1052.1 1089.6L1036.6 1070.9L1022.5 1049.6L1011.2 1025.1L1003.8 997.5L1001.0 969.2L1002.3 941.1L1007.1 912.2L1014.7 884.5L1024.2 858.1L1035.1 833.0L1047.0 808.9L1059.7 785.8L1073.1 763.6L1087.3 742.4L1102.2 722.4L1120.0 701.1M1120.0 1122.4L1103.3 1105.9L1087.1 1088.5L1071.6 1069.4L1057.8 1047.9L1046.6 1023.2L1039.4 995.5L1036.7 967.2L1038.0 938.8L1042.8 909.7L1050.1 881.9L1059.2 855.3L1069.9 829.9L1081.6 805.6L1094.2 782.3L1120.0 740.5M1120.0 1091.8L1104.6 1072.7L1090.5 1051.5L1078.8 1027.3L1070.8 1000.1L1067.2 971.4L1067.7 942.7L1071.6 913.4L1078.2 885.2L1086.8 858.1L1096.9 832.3L1120.0 783.7M1120.0 1061.1L1107.2 1038.2L1097.4 1012.3L1091.6 983.8L1090.2 954.9L1092.4 925.3L1097.7 896.5L1105.2 868.7L1120.0 828.0M1051.3 1128.7L1034.1 1113.6L1017.3 1097.3L1001.3 1079.4L986.6 1059.1L974.8 1037.2L966.1 1013.0L961.0 985.9L960.0 956.1L963.4 926.7L970.2 898.6L979.3 871.9L990.0 846.6L1001.8 822.4L1014.4 799.1L1027.6 776.6L1041.5 755.0L1055.9 734.2L1071.0 714.5L1086.7 696.0L1103.0 678.7L1120.0 662.9M983.2 529.1L1016.8 496.6L1033.4 479.8L1049.6 462.2L1065.2 443.5L1080.1 423.5L1094.1 402.2L1107.4 379.7L1120.0 356.5M1010.5 447.5L1024.6 426.4L1037.7 403.7L1049.9 380.0L1096.0 281.9L1120.0 233.9M1038.8 343.6L1060.7 293.4L1072.1 268.7L1095.6 220.2L1120.0 172.6M961.2 419.7L971.7 394.2L999.7 314.7L1009.9 288.9L1020.6 263.5L1043.2 214.1L1079.1 142.0M869.9 477.1L883.4 455.0L894.7 430.4L903.4 403.4L922.2 318.0L930.2 290.6L939.6 264.1L950.0 238.6L961.2 213.7L973.0 189.4L997.4 142.0M566.1 1439.5L527.8 1422.4L489.8 1403.7L452.3 1382.9L433.8 1371.4L415.7 1358.9L397.9 1345.2L380.7 1329.9L364.4 1312.6L349.3 1292.9L336.0 1270.6L324.9 1245.8L316.2 1218.9L309.7 1190.5L305.2 1161.3L302.2 1131.7L300.9 1101.8L301.8 1071.9L305.2 1042.4L311.4 1014.0L320.3 987.2L331.5 962.5L344.7 940.0L359.4 919.7L375.2 901.3L391.8 884.6L408.9 869.1L426.5 854.8L444.4 841.4L462.5 828.8L517.8 793.6L536.0 781.4L554.0 768.2L571.5 753.7L588.4 737.7L604.7 720.3L652.1 665.2L684.7 630.4L718.1 597.4L785.6 533.1L802.1 516.2L818.1 498.1L833.2 478.5L846.8 456.6L858.0 431.9L866.1 404.7L871.8 375.9L876.4 346.8L881.8 317.9L889.0 289.9L897.9 263.1L908.2 237.4L919.4 212.6L931.4 188.6L956.6 142.0M683.0 544.6L716.5 511.9L732.7 494.3L748.1 475.2L762.1 453.9L773.9 429.9L782.8 403.1L789.1 374.7L799.7 316.9L806.6 288.8L815.2 261.7L825.2 235.8L836.4 210.9L848.5 187.1L861.4 164.2L874.9 142.0M740.9 453.5L752.9 429.7L762.1 403.1L768.7 374.9L779.6 317.2L786.6 289.1L795.0 261.9L804.9 235.8L816.0 210.9L828.0 187.0L840.9 164.1L854.5 142.0M382.9 1467.8L344.8 1449.4L307.2 1429.0L288.7 1417.6L270.5 1405.1L252.8 1391.2L235.7 1375.7L219.4 1358.4L204.2 1339.0L190.5 1317.2L179.0 1292.8L170.5 1265.8L165.6 1236.9L163.7 1207.1L163.5 1177.1L164.4 1117.1L165.5 1087.2L167.7 1057.4L171.6 1028.0L177.7 999.5L186.6 972.7L198.0 948.2L211.7 926.5L227.1 907.3L243.4 890.1L260.4 874.3L277.8 859.4L383.8 775.0L488.9 688.2L523.5 658.0L557.3 625.9L607.4 576.5L657.9 527.8L674.5 511.1L690.7 493.5L706.2 474.6L720.4 453.6L732.6 430.0L742.0 403.7L749.0 375.6L760.1 318.0L766.9 289.8L775.2 262.5L784.8 236.2L795.7 211.1L807.7 187.1L820.5 164.1L834.0 142.0M729.9 376.8L741.2 319.2L747.8 290.9L755.7 263.4L765.0 236.9L775.6 211.5L787.4 187.2L800.1 164.1L813.6 142.0M729.0 292.4L736.6 264.6L745.4 237.8L755.7 212.1L767.2 187.6L779.8 164.2L793.2 142.0M160.0 901.6L184.5 878.2L201.9 863.5L219.6 849.5L291.2 795.9L344.2 753.8L448.8 665.5L483.3 635.0L516.9 602.7L566.2 551.3L598.5 516.0L614.4 497.8L629.8 478.7L644.3 458.0L657.2 435.2L667.8 409.9L676.0 382.6L682.2 354.1L693.0 296.4L699.4 268.0L707.2 240.4L716.4 213.8L727.1 188.5L739.2 164.6L752.3 142.0M593.9 482.5L608.2 461.6L621.1 438.9L632.0 413.8L640.6 386.8L647.1 358.5L663.1 271.8L669.8 243.5L677.8 216.0L687.5 189.8L698.7 165.1L711.5 142.0M160.0 840.0L217.3 799.4L271.0 759.2L341.7 702.9L411.6 644.6L445.9 613.7L479.2 580.6L511.3 544.8L526.9 526.0L542.0 506.5L556.7 486.0L570.5 464.4L583.1 441.2L593.8 415.9L602.4 388.9L609.1 360.6L624.8 273.8L631.0 245.3L638.5 217.5L647.5 190.8L658.3 165.5L670.6 142.0M230.5 758.5L283.9 717.3L354.5 661.0L389.4 631.5L423.5 600.2L440.1 583.6L456.5 566.3L472.4 548.1L487.8 529.1L502.7 509.1L516.9 488.0L530.2 465.6L542.1 441.5L552.1 415.7L560.2 388.3L566.7 359.9L583.3 273.4L589.8 245.1L597.5 217.4L606.7 190.8L617.4 165.5L629.8 142.0M383.8 601.7L400.5 585.1L416.8 567.7L432.7 549.5L448.1 530.5L462.9 510.2L476.8 488.7L489.5 465.5L500.6 440.7L509.7 414.0L516.8 386.0L533.0 299.4L539.2 270.9L546.4 242.9L555.0 215.8L564.9 189.8L576.2 165.1L588.9 142.0M160.0 757.0L278.8 664.4L313.9 635.8L331.2 620.7L348.2 604.8L364.7 588.0L380.9 570.4L396.6 551.8L411.7 532.2L426.2 511.5L439.8 489.6L452.1 466.0L462.6 440.5L470.7 413.2L476.6 384.6L489.9 296.8L495.6 268.1L503.0 240.2L512.0 213.5L522.6 188.1L534.7 164.3L548.1 142.0M409.2 512.4L422.6 490.1L434.7 466.3L444.8 440.5L452.5 412.9L457.8 384.0L468.9 295.6L474.1 266.7L481.3 238.7L490.4 212.0L501.3 187.0L513.9 163.7L527.7 142.0M426.6 440.1L433.8 412.2L438.7 383.1L447.9 294.3L452.7 265.2L459.5 237.0L468.7 210.4L480.0 185.7L493.0 163.0L507.2 142.0M192.0 699.4L262.5 642.6L279.8 627.5L296.7 611.5L313.1 594.5L328.9 576.1L343.9 556.3L358.1 535.1L371.4 512.8L383.8 489.2L394.9 464.4L404.2 437.9L411.0 409.8L415.7 380.6L425.3 291.8L430.3 262.8L437.4 234.8L446.8 208.5L458.5 184.2L472.0 162.1L486.8 142.0M331.5 533.4L343.5 509.4L354.5 484.4L364.4 458.4L372.9 431.3L379.7 403.1L384.9 374.2L393.8 315.7L399.0 286.7L405.6 258.5L414.1 231.3L424.5 205.8L436.9 182.3L451.0 161.1L466.4 142.0M160.0 681.5L205.0 642.2L221.9 626.1L238.3 609.0L253.9 590.3L268.2 569.5L280.7 546.1L291.1 520.6L299.9 493.7L316.4 439.0L359.9 304.0L369.0 277.3L378.7 251.2L389.5 225.9L401.6 202.1L415.1 180.0L430.0 160.0L446.0 142.0M160.0 383.2L170.5 370.1L186.4 351.9L203.1 335.3L220.2 319.8L272.4 275.6L289.7 260.4L306.6 244.5L323.2 227.7L371.5 174.4L388.0 157.6L405.1 142.0M160.0 306.5L187.5 287.0L261.2 240.6L279.5 228.3L297.5 215.2L315.2 201.2L367.1 156.3L384.7 142.0M160.0 239.2L193.4 223.1L231.6 205.5L269.6 186.7L307.0 165.3L343.8 142.0M160.0 191.9L244.2 159.1L282.6 142.0M160.0 448.4L166.2 425.0L175.5 404.1L188.7 382.7L203.7 363.1L219.8 345.1L253.1 312.0M160.0 601.6L173.0 578.9L182.8 553.0L188.1 525.3L193.5 466.0L199.4 437.5L208.6 413.3L220.8 390.7L234.9 369.6L250.1 350.0M160.0 632.2L175.8 613.9L190.6 593.8L203.6 571.1L213.5 545.2L219.7 516.9L228.8 458.5L236.5 431.0L247.2 405.7L259.7 382.4L273.4 360.5L330.2 276.2L357.4 232.2M254.5 1413.6L236.6 1400.2L219.3 1385.3L202.7 1368.7L187.0 1350.2L172.5 1329.5L160.0 1306.3M304.4 1468.3L266.6 1448.7L247.9 1438.0L229.4 1426.5L211.3 1413.8L193.6 1400.0L176.4 1384.6L160.0 1367.5M804.9 484.9L819.3 464.0L831.5 440.5L840.7 414.0L847.0 385.6L856.3 327.3L862.6 298.9L870.8 271.5L880.5 245.3L891.4 220.2L903.3 196.1L915.7 172.6L933.2 142.0M160.0 652.4L180.4 632.2L196.6 614.6L211.9 595.3L225.7 573.7L237.0 549.1L245.2 521.8L257.2 464.7L264.8 437.0L274.6 410.9L286.0 386.3L298.2 362.6M181.1 1240.5L178.2 1210.9L177.3 1180.9L177.2 1150.9L178.3 1091.0L180.4 1061.1M309.1 1402.2L291.2 1388.8L273.9 1373.8L257.3 1357.0L241.8 1338.2L227.7 1317.1L215.5 1293.4L206.0 1267.2L199.5 1238.9L196.0 1209.4L194.4 1179.5L193.7 1119.6L194.5 1089.6L196.7 1059.8L200.9 1030.5L207.3 1002.2L216.3 975.5M1058.7 1367.5L1023.3 1339.8L1005.3 1326.7L968.8 1302.0M603.8 430.9L613.8 405.1L621.6 377.5L627.6 348.9L637.8 290.9L643.5 262.1L650.2 233.9M563.2 431.4L572.8 405.1L580.3 377.3L586.3 348.8L596.8 290.9L602.6 262.1L609.4 233.9M522.3 431.6L531.0 404.7L538.0 376.6L554.7 290.2L561.1 261.8L568.5 233.9M240.0 1292.0L229.9 1266.2L222.7 1238.3L218.3 1209.1L215.8 1179.4L214.5 1149.5L214.0 1119.5L214.7 1089.5L217.0 1059.8L221.3 1030.5L228.0 1002.3L237.3 975.9L249.0 951.7L262.7 929.9M444.7 1468.1L387.4 1441.3L349.7 1421.4L331.1 1410.2M956.6 1459.4L919.8 1436.0L882.5 1414.3L863.6 1404.3L825.6 1385.6M888.5 376.9L899.3 319.1L906.7 291.3L915.7 264.6L926.0 238.8M685.4 1468.5L627.4 1445.2L588.9 1428.8M854.5 1428.8L816.4 1410.4L739.5 1377.6L701.2 1360.3L663.3 1340.8L644.6 1330.1L626.2 1318.7L607.9 1306.5L589.9 1293.4L572.3 1279.2L555.2 1263.6L538.9 1246.3L523.5 1227.1L509.4 1206.0L496.8 1182.8L485.8 1157.8L476.6 1131.1L469.7 1103.1L465.6 1073.8L465.0 1044.0L468.1 1014.5L474.8 986.4L484.9 960.7L497.6 937.7L512.5 917.9L528.9 900.9M1017.9 1214.3L981.8 1188.5L946.0 1161.7L928.4 1147.4L911.2 1132.1L894.6 1115.5L878.7 1097.3L863.9 1077.2L850.6 1054.8L839.6 1029.9L831.9 1002.3L828.7 973.0L830.4 945.9L835.9 921.4L844.6 897.9L856.4 873.8L869.3 850.9L910.1 784.9M251.0 565.0L262.1 540.3L270.8 513.3L285.3 457.4L293.6 430.2L303.3 404.0L324.5 353.1M333.8 1347.8L317.5 1330.4L302.5 1310.7L289.1 1288.5L277.9 1263.8L269.2 1236.8L263.1 1208.4L259.0 1179.0L256.4 1149.3L255.1 1119.4L255.3 1089.4L257.6 1059.7L262.1 1030.5M548.1 1398.2L510.5 1377.7L492.0 1366.4L473.7 1354.3L455.7 1341.3L438.1 1327.0L421.1 1311.2L405.0 1293.4L390.3 1273.1L377.5 1250.2L366.8 1224.9L358.4 1197.7L352.1 1169.3L347.5 1140.2L344.7 1110.5L344.3 1080.6L346.5 1050.9L351.8 1022.0L359.9 994.7L370.5 969.4L383.1 946.2M669.4 1406.8L631.2 1389.1L593.4 1369.2L574.8 1358.4L556.3 1346.9L538.1 1334.5M1033.5 1424.2L997.4 1398.2L960.9 1373.8L923.8 1351.2L886.4 1330.2M931.9 1087.5L917.2 1067.3L904.5 1044.3L894.9 1019.8L888.9 993.7L886.8 965.5L889.2 936.0L895.8 907.8L905.3 881.5L916.6 856.7L928.8 833.0L954.9 787.6L968.6 765.7L982.8 744.5L997.4 724.1L1012.6 704.5L1028.2 685.8M605.6 532.8L638.1 497.8L653.7 479.0L668.3 458.6L681.3 435.9L691.9 410.6L699.9 383.2L717.4 297.2M282.6 570.9L295.7 548.4L307.1 523.8L317.1 497.8L326.2 471.1L343.0 416.7M249.5 911.0L265.7 893.5L282.6 877.3L299.8 862.2L335.0 833.5M275.1 1027.6L282.6 999.9L292.5 974.0L304.7 950.3L318.7 928.9L334.0 909.7M320.1 1287.2L308.0 1263.4L298.4 1237.2L291.2 1209.3L286.2 1180.3L282.7 1150.7L280.8 1120.9L280.6 1090.9L282.6 1061.1M853.0 1346.4L796.1 1318.1L758.3 1298.4L721.0 1276.8L684.3 1252.7L666.4 1239.5L648.8 1225.1L631.8 1209.3L615.6 1191.8L600.6 1172.1L587.1 1150.0L575.4 1125.7L565.9 1099.4L558.8 1071.5L554.5 1042.3L553.7 1012.4L557.1 983.1L564.2 957.4L574.5 935.3M956.6 387.1L973.5 332.7L982.5 306.0L992.4 279.9L1014.2 229.6L1037.4 180.8L1057.0 142.0M324.9 1178.3L320.5 1149.1L317.8 1119.4L317.1 1089.5L318.9 1059.6L323.4 1030.5M522.0 1334.8L504.1 1321.2L486.8 1306.3L470.1 1289.7L454.4 1271.2L440.0 1250.4L427.4 1227.3L416.7 1202.0L408.1 1175.0L401.3 1146.8L396.5 1117.7L394.1 1088.0L394.5 1058.1L398.2 1028.8L405.1 1000.8L414.8 974.6M670.6 1306.3L652.2 1294.7L634.0 1282.3L616.0 1269.1L598.5 1254.7L581.5 1238.9L565.3 1221.3L550.2 1201.8L536.4 1180.1L524.1 1156.5L513.6 1131.0L505.3 1103.8L499.6 1075.1L497.3 1045.5L498.8 1015.7L504.3 987.1L513.3 961.1M871.8 1326.3L796.5 1285.7L759.3 1263.6L722.8 1239.1L704.9 1225.7L687.4 1211.3L670.4 1195.5L654.1 1178.0L639.1 1158.4L625.7 1136.2L614.2 1111.6L605.0 1085.1L598.1 1057.0L593.6 1027.9L592.4 998.1L595.9 968.8L603.0 945.2L613.1 925.3L625.9 907.8L642.3 890.8L659.5 875.7L712.6 833.7L730.1 819.0M486.8 1275.6L471.5 1256.4L457.5 1235.0L445.2 1211.4L434.9 1185.8L426.4 1158.6L419.9 1130.3M915.7 1275.6L878.8 1252.5L842.3 1228.2L806.4 1201.7L788.8 1187.3L771.6 1172.0L754.9 1155.5L738.9 1137.6L723.9 1117.8L710.4 1095.8L698.7 1071.6L689.1 1045.3L681.9 1017.4L678.3 988.1L679.2 963.9L684.4 940.9L692.7 921.6L703.8 903.9M837.1 806.5L895.3 724.1L910.2 704.1L925.5 684.8M588.9 1183.7L575.0 1162.3L562.7 1138.7L552.4 1113.0L544.4 1085.6L539.3 1056.7M691.1 1183.7L675.0 1165.8L660.3 1145.6L647.2 1123.0L636.2 1098.1L627.3 1071.3L620.6 1043.1L616.3 1013.9L615.9 984.1L620.2 957.1L627.9 935.5M837.1 1070.3L824.7 1047.0L815.1 1022.3L809.2 997.6L807.0 972.0L809.4 944.0L816.9 916.5L828.0 891.6L840.8 868.6L854.5 846.7M748.3 1170.2L731.9 1153.1L716.4 1134.1L702.3 1113.0L689.8 1089.6L679.4 1064.1L671.1 1036.8M444.6 756.2L497.7 714.3L532.5 684.6L566.4 652.8L616.5 603.3L667.2 555.1M750.5 797.8L766.9 780.5L782.7 762.2L844.5 686.0L860.2 667.5M779.3 1105.2L765.0 1084.3L752.3 1061.1L741.8 1035.7L734.3 1008.1L731.2 978.8M562.6 788.5L580.3 774.8L597.5 759.5L614.0 742.5L629.8 724.1L645.2 705.1"/>
<path class="s" d="M213.4 1561.3L207.2 1552.9M217.7 1553.0L207.2 1552.9M244.5 1545.8L238.1 1537.5M248.6 1537.3L238.1 1537.5M275.4 1529.3L268.9 1521.0M279.4 1520.8L268.9 1521.0M355.2 1536.3L348.9 1527.9M359.4 1527.9L348.9 1527.9M416.2 1536.8L410.0 1528.3M420.5 1528.4L410.0 1528.3M477.2 1537.9L470.9 1529.5M481.4 1529.4L470.9 1529.5M538.6 1538.2L532.2 1529.9M542.7 1529.8L532.2 1529.9M600.0 1538.2L593.6 1529.9M604.1 1529.7L593.6 1529.9M304.8 898.9L314.7 895.4M311.5 905.4L314.7 895.4M685.2 1520.0L678.5 1511.8M689.0 1511.4L678.5 1511.8M785.1 1534.7L778.9 1526.2M789.4 1526.3L778.9 1526.2M835.6 1537.3L829.7 1528.6M840.2 1529.1L829.7 1528.6M422.4 916.0L432.0 911.9M429.6 922.1L432.0 911.9M926.4 1539.3L921.2 1530.2M931.6 1531.5L921.2 1530.2M483.0 912.6L492.7 908.6M490.2 918.7L492.7 908.6M990.7 1524.3L985.7 1515.1M996.1 1516.6L985.7 1515.1M1058.5 1542.0L1053.7 1532.7M1064.0 1534.4L1053.7 1532.7M526.4 967.7L534.0 960.5M535.2 970.9L534.0 960.5M1015.3 1447.1L1010.4 1437.8M1020.8 1439.5L1010.4 1437.8M636.8 972.0L642.5 963.2M646.1 973.0L642.5 963.2M709.2 959.9L715.1 951.3M718.5 961.2L715.1 951.3M857.3 1171.6L853.2 1161.9M863.4 1164.4L853.2 1161.9M781.8 949.0L788.0 940.5M791.1 950.5L788.0 940.5M849.6 951.5L855.6 942.8M858.9 952.8L855.6 942.8M922.8 936.4L928.7 927.7M932.1 937.7L928.7 927.7M998.2 937.1L1004.3 928.6M1007.5 938.6L1004.3 928.6M1033.2 939.5L1039.3 930.9M1042.5 940.9L1039.3 930.9M1062.8 943.9L1068.7 935.2M1072.1 945.1L1068.7 935.2M1085.9 949.7L1091.2 940.7M1095.3 950.4L1091.2 940.7M967.5 891.9L975.0 884.5M976.5 894.9L975.0 884.5M1053.6 450.1L1063.2 445.9M1060.8 456.1L1063.2 445.9M1061.5 344.3L1069.7 337.8M1070.0 348.3L1069.7 337.8M1071.3 259.4L1079.6 253.0M1079.8 263.5L1079.6 253.0M1008.1 280.9L1016.1 274.0M1016.8 284.5L1016.1 274.0M919.6 310.1L926.7 302.4M928.6 312.7L926.7 302.4M488.1 806.9L498.5 805.8M493.1 814.8L498.5 805.8M787.5 356.1L793.9 347.8M796.8 357.9L793.9 347.8M779.8 296.8L786.6 288.8M788.9 299.0L786.6 288.8M345.4 800.0L355.7 797.8M351.3 807.3L355.7 797.8M752.8 257.5L760.3 250.2M761.6 260.6L760.3 250.2M748.6 217.1L756.5 210.1M757.4 220.6L756.5 210.1M532.4 580.1L542.3 576.5M539.2 586.6L542.3 576.5M649.7 317.4L656.1 309.0M659.0 319.1L656.1 309.0M498.0 552.9L507.8 548.9M505.1 559.1L507.8 548.9M502.2 501.6L511.3 496.4M510.0 506.8L511.3 496.4M510.9 390.0L517.8 382.1M520.0 392.4L517.8 382.1M427.4 500.7L436.3 495.2M435.5 505.6L436.3 495.2M459.6 330.2L465.4 321.4M468.9 331.3L465.4 321.4M443.9 289.3L450.2 280.9M453.2 290.9L450.2 280.9M393.1 455.4L400.6 448.0M402.0 458.5L400.6 448.0M385.6 337.8L391.8 329.3M394.9 339.3L391.8 329.3M315.3 427.2L322.6 419.7M324.3 430.1L322.6 419.7M278.0 264.5L288.1 261.7M284.2 271.5L288.1 261.7M270.2 228.9L280.6 227.5M275.5 236.7L280.6 227.5M247.8 192.6L258.3 192.5M252.1 201.0L258.3 192.5M215.7 165.4L226.2 166.4M219.1 174.2L226.2 166.4M189.3 374.2L198.7 369.6M196.8 379.9L198.7 369.6M187.7 475.4L193.6 466.7M197.0 476.6L193.6 466.7M233.0 427.4L240.9 420.4M241.7 430.9L240.9 420.4M199.7 1372.6L197.3 1362.4M206.9 1366.5L197.3 1362.4M228.3 1431.4L223.3 1422.2M233.7 1423.7L223.3 1422.2M854.4 314.4L861.0 306.3M863.5 316.5L861.0 306.3M240.6 520.2L247.4 512.2M249.7 522.4L247.4 512.2M172.4 1155.5L177.2 1146.1M181.8 1155.6L177.2 1146.1M191.5 1212.0L195.5 1202.4M200.8 1211.4L195.5 1202.4M1015.7 1340.1L1010.9 1330.7M1021.2 1332.5L1010.9 1330.7M624.9 337.1L631.2 328.7M634.1 338.8L631.2 328.7M583.6 337.1L590.0 328.8M592.9 338.9L590.0 328.8M541.0 336.7L547.4 328.4M550.2 338.5L547.4 328.4M209.4 1112.4L214.4 1103.2M218.8 1112.7L214.4 1103.2M388.9 1447.4L382.7 1438.9M393.2 1439.0L382.7 1438.9M894.3 1426.4L888.4 1417.7M898.9 1418.2L888.4 1417.7M896.9 309.9L903.9 302.0M906.0 312.3L903.9 302.0M639.5 1455.2L632.6 1447.3M643.1 1446.5L632.6 1447.3M533.9 1247.6L531.7 1237.3M541.2 1241.8L531.7 1237.3M835.6 1033.0L837.7 1022.7M844.6 1030.5L837.7 1022.7M279.3 461.5L286.3 453.7M288.3 464.0L286.3 453.7M257.8 1203.9L261.1 1194.0M267.1 1202.6L261.1 1194.0M359.2 1216.0L360.8 1205.6M368.1 1213.1L360.8 1205.6M603.8 1380.2L597.8 1371.6M608.3 1372.0L597.8 1371.6M963.1 1380.8L957.8 1371.7M968.2 1372.9L957.8 1371.7M901.8 878.1L909.8 871.4M910.4 881.9L909.8 871.4M679.1 429.0L687.0 422.1M687.7 432.6L687.0 422.1M311.8 498.7L319.3 491.4M320.6 501.8L319.3 491.4M283.9 869.9L294.0 867.2M290.1 877.0L294.0 867.2M290.9 967.0L299.3 960.8M299.3 971.3L299.3 960.8M281.7 1182.2L285.2 1172.3M291.0 1181.1L285.2 1172.3M619.0 1202.4L616.1 1192.3M625.9 1196.0L616.1 1192.3M993.9 264.3L1001.8 257.4M1002.6 267.9L1001.8 257.4M312.9 1109.2L317.4 1099.7M322.3 1109.0L317.4 1099.7M404.2 1178.7L406.5 1168.5M413.3 1176.5L406.5 1168.5M524.7 1167.9L524.6 1157.4M533.1 1163.6L524.6 1157.4M609.9 1113.4L611.2 1103.0M618.7 1110.3L611.2 1103.0M441.1 1213.6L441.9 1203.1M449.8 1210.1L441.9 1203.1M729.4 1132.9L727.6 1122.5M736.9 1127.2L727.6 1122.5M874.0 746.1L883.2 741.1M881.7 751.5L883.2 741.1M553.9 1129.3L554.7 1118.8M562.6 1125.8L554.7 1118.8M622.8 1073.0L625.3 1062.8M632.0 1070.9L625.3 1062.8M803.3 960.2L808.8 951.3M812.6 961.1L808.8 951.3M698.2 1115.4L697.9 1104.9M706.5 1111.0L697.9 1104.9M552.8 659.3L562.8 656.2M559.2 666.1L562.8 656.2M799.6 734.0L809.2 729.7M807.0 739.9L809.2 729.7M743.2 1051.5L744.1 1041.1M752.0 1048.0L744.1 1041.1M600.2 749.9L610.2 746.4M607.0 756.4L610.2 746.4"/>
<text class="c" text-anchor="middle" transform="translate(615,247) rotate(5) scale(1.13,1.03)" y="5.3">40</text><text class="c" text-anchor="middle" transform="translate(687.5,276) rotate(10) scale(1.13,1.03)" y="5.3">40</text><text class="c" text-anchor="middle" transform="translate(808.5,294.5) rotate(-5) scale(1.13,1.03)" y="5.3">40</text><text class="c" text-anchor="middle" transform="translate(735,384) rotate(-20) scale(1.13,1.03)" y="5.3">40</text><text class="c" text-anchor="middle" transform="translate(687.7,412.5) rotate(15) scale(1.13,1.03)" y="5.3">40</text><text class="c" text-anchor="middle" transform="translate(902.5,384) rotate(-15) scale(1.13,1.03)" y="5.3">40</text><text class="c" text-anchor="middle" transform="translate(1117.5,221) rotate(0) scale(1.13,1.03)" y="5.3">40</text><text class="c" text-anchor="middle" transform="translate(1117.5,355) rotate(0) scale(1.13,1.03)" y="5.3">40</text><text class="c" text-anchor="middle" transform="translate(760,652) rotate(-20) scale(1.13,1.03)" y="5.3">40</text><text class="c" text-anchor="middle" transform="translate(376.4,1129.6) rotate(0) scale(1.13,1.03)" y="5.3">40</text><text class="c" text-anchor="middle" transform="translate(232.4,1176.3) rotate(0) scale(1.13,1.03)" y="5.3">40</text><text class="c" text-anchor="middle" transform="translate(275.3,1461) rotate(0) scale(1.13,1.03)" y="5.3">40</text><text class="c" text-anchor="middle" transform="translate(927.7,1495.4) rotate(0) scale(1.13,1.03)" y="5.3">40</text><text class="c" text-anchor="middle" transform="translate(1111.5,1438.5) rotate(0) scale(1.13,1.03)" y="5.3">40</text>
<g clip-path="url(#t1)"><path class="b" d="M441.9 141.0 L442.3 147.7 L440.0 151.2 L437.2 151.5 L432.8 150.0 L430.1 149.2 L432.4 147.7 L433.4 145.8 L431.5 144.1 L426.7 143.9 L419.1 145.1 L414.3 147.3 L413.3 149.4 L416.2 150.6 L421.9 151.5 L426.3 153.1 L428.6 155.3 L429.5 158.8 L432.4 162.0 L438.1 164.7 L444.8 165.8 L451.5 164.9 L459.1 162.0 L466.7 158.8 L473.4 156.3 L480.1 155.7 L482.7 156.3 L481.0 159.5 L476.3 162.6 L470.5 165.3 L465.8 168.7 L461.0 172.5 L456.2 176.3 L453.4 180.1 L449.6 179.7 L443.8 178.6 L440.4 179.7 L441.0 184.9 L439.1 190.6 L435.8 188.7 L431.5 200.1 L436.2 199.6 L442.9 200.1 L448.6 200.7 L451.9 199.6 L456.2 197.3 L462.9 195.0 L470.5 192.5 L477.2 190.0 L481.0 186.8 L483.9 182.0 L487.7 178.6 L490.5 179.2 L491.1 183.9 L490.5 188.7 L485.8 191.6 L480.1 193.9 L474.3 197.3 L468.6 200.1 L462.9 203.0 L457.2 206.8 L451.5 210.6 L445.8 214.8 L444.2 219.2 L441.9 220.5 L436.6 223.0 L438.1 225.9 L442.9 227.8 L441.0 230.6 L436.2 232.0 L430.5 232.0 L425.7 232.0 L423.8 236.4 L424.4 243.0 L425.2 251.6 L426.1 262.1 L427.6 275.4 L428.6 287.8 L433.4 288.8 L441.0 283.1 L449.6 279.3 L457.2 275.4 L457.2 277.3 L445.8 285.0 L434.3 292.6 L428.6 299.3 L429.5 307.8 L428.2 319.3 L431.5 329.8 L437.2 336.4 L440.0 337.4 L457.2 333.6 L473.4 328.4 L462.9 333.6 L441.0 338.7 L442.3 344.1 L444.8 355.5 L448.6 370.8 L451.9 384.1"/><path class="b" d="M457.2 275.8 L460.0 270.7 L468.6 266.9 L477.2 264.0 L483.9 254.5 L489.6 250.7 L502.9 247.8 L516.3 243.0 L533.4 241.1 L556.3 237.3 L571.6 230.6 L585.9 225.9 L596.3 220.2 L600.2 203.0 L590.6 205.9 L581.1 205.9 L574.4 199.2 L574.4 187.8 L567.8 183.0 L562.0 170.6 L558.2 161.1 L557.3 149.6 L558.2 143.9 L565.8 144.9 L572.5 141.0"/><path class="b" d="M585.9 225.9 L590.6 241.1 L592.5 245.9 L607.8 244.9 L615.4 248.8 L617.3 254.5 L609.7 262.1 L598.3 267.8 L587.8 279.3 L584.0 286.9 L585.9 294.5 L595.4 296.4 L598.3 305.9"/><path class="b" d="M443.8 353.6 L457.2 351.7 L468.6 348.8 L483.9 348.8 L486.7 346.0 L495.3 348.8 L506.8 351.7 L510.6 346.9 L509.6 342.2 L514.4 336.4 L516.3 329.8 L522.0 326.0 L533.4 322.1 L548.7 319.3 L563.9 318.3 L577.3 313.6 L590.6 307.8 L598.3 306.3 L609.7 306.9 L624.9 307.8 L642.1 297.4"/><path class="b" d="M627.8 307.5 L623.0 319.3 L617.3 329.8 L611.6 336.4 L621.1 334.5 L631.6 332.6 L642.1 336.8"/></g>
<g clip-path="url(#t2)"><path class="b" d="M674.3 141.0 L683.8 145.8 L699.1 153.4 L706.7 153.4 L720.1 160.1 L731.5 165.8 L742.9 164.9 L754.4 167.7 L773.4 161.1 L783.0 155.7 L790.6 160.1 L803.9 161.1 L815.4 164.9 L823.0 172.5 L831.2 183.0 L840.2 164.9 L847.8 155.3 L855.4 149.6 L863.0 141.0"/><path class="b" d="M639.0 294.5 L651.4 293.5 L656.2 284.0 L661.9 284.0 L663.8 295.5 L671.5 296.4 L677.2 291.6 L689.6 289.7 L705.8 286.9 L720.1 292.2 L733.4 292.6 L730.5 300.2 L733.4 304.0 L743.9 303.1 L752.5 300.2 L755.3 294.5 L763.9 296.4 L769.6 302.1 L773.4 308.8 L783.0 301.2 L792.5 299.3 L803.9 298.3 L817.3 295.5 L827.8 291.6 L831.6 286.9 L832.2 273.5 L836.3 267.8 L844.0 265.0 L855.4 270.7 L866.8 276.4 L881.1 272.6"/><path class="b" d="M829.7 289.7 L831.6 304.0 L837.3 315.5 L837.3 325.0 L830.6 330.7 L824.9 342.2 L818.2 359.3 L823.0 373.6 L815.4 377.4 L807.8 383.1"/><path class="b" d="M639.0 356.5 L653.3 359.3 L664.8 360.3 L676.2 355.5 L683.8 363.1 L681.0 370.8 L666.7 380.3 L662.9 383.1"/><path class="b" d="M881.1 238.3 L873.5 245.9 L881.1 250.7"/></g>
<g clip-path="url(#t3)"><path class="b" d="M879.0 143.0 L887.6 143.9 L904.8 143.9 L921.0 145.8 L925.8 151.5 L924.2 159.2 L918.1 163.9 L929.6 170.6 L941.0 177.3 L942.9 183.0 L941.0 190.6 L935.3 197.3 L927.7 204.0 L925.8 209.7 L916.2 208.7 L906.7 211.6 L897.2 218.3 L891.4 225.9 L887.6 231.6 L879.0 235.4"/><path class="b" d="M930.5 202.0 L942.9 206.8 L952.4 210.6 L962.0 209.7 L971.5 212.5 L983.9 212.5 L994.4 214.4 L1002.0 217.3 L1013.4 214.4 L1026.8 213.5 L1038.2 214.1 L1043.9 212.2 L1049.7 218.3 L1059.2 222.1 L1070.6 226.8 L1089.7 225.9 L1108.8 224.0 L1121.1 226.8"/><path class="b" d="M879.0 250.7 L884.8 251.6 L887.6 255.4 L883.8 262.1 L881.9 267.8 L885.7 272.6 L895.3 276.4 L912.4 276.4 L920.0 273.5 L921.0 266.9 L928.6 267.8 L935.3 275.4 L941.0 278.3 L956.3 278.3 L969.6 276.4 L973.4 271.6 L981.0 274.5 L982.9 281.2 L982.0 290.7 L993.4 293.5 L990.6 304.0 L985.8 317.4 L981.0 325.0 L983.9 332.6 L985.8 340.3 L992.5 345.0 L1000.1 345.0 L1009.6 340.3 L1023.0 341.2 L1038.2 345.0 L1051.6 350.7 L1063.0 358.4 L1070.6 365.0 L1061.1 374.6 L1051.6 383.1"/></g>
<g clip-path="url(#t5)"><path class="b" d="M449.9 381.0 L451.9 389.6 L450.5 401.1 L453.4 410.6 L459.1 420.1 L461.4 431.6 L463.9 441.1 L468.6 450.6 L473.4 460.2 L478.2 464.4 L483.9 465.5 L481.0 469.7 L480.1 481.1 L482.4 496.4 L481.6 507.8 L476.3 530.7 L470.5 553.6 L464.8 572.6 L459.1 587.9 L455.3 603.1 L450.5 618.4 L449.2 623.1"/><path class="b" d="M451.9 389.6 L462.9 391.2 L476.3 395.0 L485.8 401.1 L495.3 404.9 L496.3 407.7 L491.1 410.6 L491.9 417.3 L501.0 418.2 L510.6 417.3 L522.0 412.9 L531.5 412.5 L539.2 414.4 L552.5 412.5 L562.0 413.5 L575.4 409.6 L587.8 402.6 L598.3 405.8 L605.9 413.5 L615.4 418.2 L624.9 422.0 L633.5 423.6 L641.1 420.1"/><path class="b" d="M482.4 497.3 L495.3 496.4 L501.0 497.9 L512.5 494.5 L522.0 497.9 L531.5 489.1 L541.1 497.3 L546.8 498.3 L545.8 493.5 L552.5 490.7 L558.2 491.6 L569.7 484.9 L570.6 481.1 L588.7 476.4 L609.7 475.4 L624.9 475.4 L641.1 473.1"/><path class="b" d="M570.6 482.1 L583.0 488.8 L587.8 500.2 L594.4 502.1 L604.0 505.9 L610.6 505.0 L612.0 501.1 L619.2 500.2 L619.2 503.0 L611.6 511.6 L608.7 519.3 L610.6 528.8 L613.1 534.5 L610.6 537.4 L604.9 536.8 L598.3 534.5 L588.7 536.8 L580.1 537.9 L582.0 544.0 L577.3 553.6 L567.8 561.2 L562.0 566.9 L563.9 574.5 L568.7 580.3 L569.7 587.9 L580.1 593.2 L571.6 595.5 L567.8 601.2 L571.6 608.8 L578.2 617.4 L574.4 623.1"/><path class="b" d="M479.5 541.0 L476.6 544.8 L473.4 550.5 L470.9 559.1 L468.1 569.6 L464.2 579.1 L460.4 585.8 L459.5 590.5 L460.4 594.7 L463.3 590.5 L467.1 586.7 L470.9 585.2 L473.8 587.7 L475.7 582.9 L478.5 582.0 L482.0 582.0 L484.8 579.1 L486.7 575.7 L484.3 573.4 L481.4 571.5 L480.1 568.6 L483.3 567.1 L489.0 566.7 L495.7 565.2 L500.5 562.9 L502.9 560.4 L498.6 560.2 L492.8 562.0 L487.1 563.3 L482.0 563.9 L478.5 561.4 L476.6 558.1 L475.7 554.3 L477.6 551.5 L481.4 548.6 L484.8 545.2 L485.2 542.3 L483.3 540.4 L479.5 541.0"/><path class="b" d="M477.6 544.2 L474.7 550.5 L472.4 559.1 L470.0 568.6 L466.7 578.2 L462.3 584.8"/><path class="b" d="M449.2 618.4 L457.2 623.1"/></g>
<g clip-path="url(#t6)"><path class="b" d="M665.7 381.0 L662.9 383.9 L655.3 386.8 L653.3 393.4 L654.3 398.2 L648.6 404.9 L647.6 412.5 L641.0 419.2 L639.0 419.7"/><path class="b" d="M647.6 412.5 L649.5 422.0 L661.0 428.7 L661.9 435.4 L669.5 443.4 L665.7 454.4 L664.8 463.0"/><path class="b" d="M639.0 472.5 L649.5 469.7 L664.8 463.0 L678.1 457.9 L682.9 458.3 L691.5 464.0 L702.9 465.9 L712.4 463.0 L722.0 459.2 L735.3 459.8 L746.8 458.3 L762.0 454.4 L776.3 450.2 L781.1 451.6 L790.6 461.1 L800.1 464.4 L807.8 464.0 L823.0 463.4 L838.3 464.4 L852.5 456.0 L849.7 463.0 L857.3 465.9 L857.3 473.5 L861.1 480.2 L872.6 484.9 L881.1 488.8"/><path class="b" d="M810.6 381.0 L805.8 389.6 L798.2 392.5 L792.5 397.3 L792.5 410.6 L796.3 418.2 L803.9 421.1 L792.5 426.8 L789.6 434.4 L785.8 437.3 L785.3 443.0 L777.3 446.8 L776.3 450.2"/><path class="b" d="M807.8 464.4 L803.0 477.3 L798.2 490.7 L799.2 497.3 L792.5 499.2 L787.7 501.1 L796.3 505.9 L800.1 511.6 L798.2 517.3 L790.6 523.1 L781.1 522.1 L778.2 525.0 L781.1 532.6 L776.3 542.1 L771.5 545.9 L765.8 544.0 L754.4 534.5 L746.8 533.0 L740.1 535.5 L736.3 544.0 L731.1 550.7 L733.4 555.5 L740.1 558.3 L742.0 563.1 L738.2 566.9 L742.9 572.6 L749.6 577.4 L748.7 584.1 L743.9 589.8 L741.0 599.3 L741.0 604.7 L725.8 606.9 L716.3 609.8 L702.9 615.5 L689.6 620.3 L681.9 623.1"/></g>
<g clip-path="url(#t7)"><path class="b" d="M1052.5 381.0 L1050.6 389.6 L1043.0 403.0 L1032.5 404.9 L1028.7 407.7 L1027.7 411.5 L1023.0 412.5 L1013.4 422.0 L1003.9 428.7 L994.4 433.1 L983.9 437.3 L964.8 437.7 L960.1 442.0 L952.4 452.5 L946.7 457.3 L939.1 462.1 L937.2 466.8 L937.2 473.5 L931.5 481.1 L922.9 489.7 L901.0 488.8 L897.2 490.7 L879.0 489.7"/><path class="b" d="M1003.9 428.7 L1023.0 431.9 L1043.0 435.4 L1061.1 443.0 L1078.3 450.6 L1088.7 454.8 L1093.5 451.6 L1106.8 452.2 L1113.5 455.4 L1113.5 462.1 L1121.1 466.8"/><path class="b" d="M897.2 490.7 L893.3 498.3 L897.2 505.9 L904.8 513.5 L910.5 523.1 L915.3 530.7 L921.9 533.5 L923.8 538.3 L919.1 540.2 L918.1 553.6 L919.1 563.1 L922.9 574.5 L924.8 586.0 L920.0 593.6 L916.2 601.2 L915.3 606.9 L919.1 612.7 L924.8 618.4 L925.8 623.1"/></g>
<g clip-path="url(#t8)"><path class="b" d="M400.6 782.1 L394.5 793.6 L388.8 805.0 L382.1 818.3 L381.1 826.0 L378.3 833.6 L378.8 843.1 L371.6 853.6 L366.8 859.3 L360.2 862.6"/></g>
<g clip-path="url(#t9)"><path class="b" d="M449.9 621.0 L446.7 633.4 L441.0 652.5 L435.3 669.7 L430.5 679.2 L423.8 688.7 L421.4 695.4 L422.9 701.1 L428.6 704.9 L438.1 705.9 L445.8 708.7 L451.5 711.6 L450.5 713.9 L441.9 713.5 L435.3 710.1 L429.5 713.5 L423.8 731.6 L417.2 747.8 L409.5 765.0 L402.9 778.3 L399.0 787.8"/><path class="b" d="M455.3 621.0 L466.7 630.6 L477.2 637.3 L484.8 638.2 L488.6 632.5 L493.4 625.8 L502.9 630.6 L502.0 639.2 L504.8 644.9 L512.5 642.0 L519.1 641.1 L522.0 650.6 L520.1 657.3 L514.4 663.9 L513.4 670.6 L518.2 672.5 L529.6 673.1 L537.3 666.8 L543.9 660.1 L550.6 658.2 L555.4 654.4 L554.4 645.8 L560.1 639.2 L563.0 631.5 L560.1 625.8 L565.8 623.0 L572.5 621.0"/><path class="b" d="M555.4 654.4 L567.8 657.3 L577.3 662.0 L584.0 665.5 L587.8 661.1 L600.2 659.2 L611.6 660.1 L623.0 654.4 L634.5 649.6 L641.1 647.7"/><path class="b" d="M423.8 731.6 L434.3 735.4 L444.8 737.3 L451.5 733.5 L462.9 733.5 L474.3 734.5 L482.0 737.3 L486.7 742.1 L491.5 743.0 L498.2 736.4 L503.9 735.4 L507.7 740.2 L508.7 748.8 L512.5 752.6 L518.2 747.8 L529.6 741.1 L539.2 738.3 L542.0 742.1 L545.8 748.8 L546.8 755.4 L543.0 758.3 L548.7 757.7 L556.3 755.4 L565.8 748.8 L571.6 748.8 L574.4 745.9 L572.5 742.1 L569.7 736.4 L575.4 731.6 L583.0 727.8 L590.6 727.8 L597.3 721.5 L604.0 724.9 L604.9 734.5 L609.7 744.0 L614.5 750.7 L609.7 754.5 L611.6 757.3 L621.1 752.6 L631.6 748.8 L641.1 746.9"/><path class="b" d="M609.7 757.7 L607.8 763.1 L600.2 769.7 L590.6 777.4 L579.2 779.3 L575.4 783.1 L571.6 787.8 L572.5 793.6 L579.2 797.4 L584.0 802.1 L584.9 812.6 L584.9 822.2 L588.7 826.9 L598.3 830.7 L606.8 834.0 L617.3 833.6 L624.6 831.7 L623.0 823.1 L625.9 816.4 L627.8 805.0 L633.5 803.1 L641.1 803.1"/><path class="b" d="M571.6 790.7 L561.7 790.7 L562.0 797.4 L552.5 799.3 L542.0 802.1 L532.5 804.0 L529.6 791.7 L526.2 781.2 L514.4 785.0 L503.9 789.8 L493.4 793.2 L485.8 793.6 L479.1 796.4 L477.2 803.1 L478.2 810.7 L483.9 816.4 L482.9 821.2 L473.4 827.9 L474.3 835.5 L477.2 845.0 L472.4 852.7 L467.7 855.5 L462.0 854.2 L461.0 859.3 L462.9 863.1"/></g>
<g clip-path="url(#t10)"><path class="b" d="M681.9 621.0 L682.9 623.9 L686.7 629.6 L684.8 636.3 L679.1 639.2 L681.0 643.0 L686.7 644.9 L688.6 654.4 L695.3 662.0 L687.7 666.8 L683.8 673.5 L681.6 679.2 L687.7 683.0 L690.5 685.9 L687.7 691.6 L685.8 697.3 L689.6 704.0 L697.2 708.7 L702.0 713.5 L701.0 719.2 L696.2 723.0 L688.6 722.1 L686.7 732.6 L681.9 728.8 L672.4 727.8 L664.8 730.7 L661.0 734.5 L660.0 741.1 L654.3 741.1 L648.6 744.0 L645.7 746.9 L639.0 745.9"/><path class="b" d="M639.0 646.8 L649.5 642.0 L659.1 637.3 L668.6 629.6 L677.2 623.9 L681.9 623.0"/><path class="b" d="M690.5 685.9 L701.0 684.0 L712.4 678.2 L723.9 672.5 L733.4 664.9 L739.1 663.9 L746.8 664.9 L753.4 661.1 L756.3 655.4 L763.9 648.7 L770.6 643.0 L777.3 646.8 L786.8 650.2 L796.3 648.7 L802.0 644.9 L809.7 643.0 L814.4 644.5 L813.9 656.3 L810.6 664.9 L803.9 670.6 L803.0 674.4 L811.6 677.3 L823.0 677.3 L834.4 674.4 L845.9 673.5 L849.7 668.7 L853.5 665.8 L859.2 672.5 L868.8 673.5 L881.1 673.9"/><path class="b" d="M881.1 686.4 L873.5 690.6 L869.7 698.3 L871.6 707.8 L874.5 713.5 L881.1 715.4"/><path class="b" d="M639.0 805.0 L648.6 805.4 L651.4 812.6 L651.4 822.2 L659.1 825.0 L668.6 829.8 L678.1 837.4 L682.9 844.1 L685.8 849.8"/><path class="b" d="M639.0 857.4 L645.7 851.7 L654.3 848.8 L662.9 850.8 L673.4 856.5 L680.0 850.8 L685.8 848.8 L697.2 839.3 L704.8 835.5 L708.6 828.8 L713.4 826.0 L724.8 828.3 L731.5 825.0 L741.0 819.9 L746.8 820.3 L773.4 821.2 L798.2 821.2 L811.6 818.3 L823.0 817.4 L827.8 819.9 L840.2 820.3 L859.2 819.3 L871.6 817.4 L876.4 813.6 L877.3 805.0 L880.6 797.4 L879.8 788.8"/><path class="b" d="M745.8 820.3 L750.6 829.8 L755.3 839.3 L763.9 846.9 L773.4 852.7 L781.1 857.4 L783.0 863.1"/></g>
<g clip-path="url(#t11)"><path class="b" d="M924.8 621.0 L917.2 628.7 L914.3 636.3 L916.2 644.9 L923.8 652.5 L929.2 656.7 L925.8 663.0 L916.2 667.8 L910.5 671.9 L908.6 677.3 L899.1 681.1 L891.4 680.7 L885.7 676.3 L879.0 673.5"/><path class="b" d="M879.0 686.8 L891.4 680.7"/><path class="b" d="M910.5 675.4 L920.0 683.0 L931.5 683.4 L939.1 682.6 L946.7 680.1 L954.3 682.0 L963.9 679.2 L979.1 677.3 L985.8 673.5 L985.8 664.9 L990.6 660.1 L1002.0 656.3 L1013.4 652.5 L1023.0 646.8 L1032.5 643.9 L1038.2 637.3 L1047.8 634.4 L1057.3 629.6 L1064.9 626.8 L1072.5 628.7 L1080.2 633.4 L1089.7 638.2 L1095.4 643.0 L1102.1 645.8 L1101.1 650.6 L1096.4 656.3 L1106.8 661.1 L1114.5 663.9 L1121.1 668.7"/><path class="b" d="M879.0 714.5 L887.6 715.4 L895.3 723.0 L902.9 732.6 L908.6 740.2 L903.8 747.8 L901.9 757.3 L897.2 763.1 L898.1 772.6 L893.3 780.2 L887.6 784.0 L879.0 785.9"/><path class="b" d="M880.0 789.8 L881.5 799.3"/></g>
<g clip-path="url(#t12)"><path class="b" d="M360.2 861.0 L352.5 867.7 L344.0 875.3 L348.7 878.2 L349.7 882.0 L345.9 884.5 L341.1 881.1 L331.6 884.9 L322.0 889.6 L314.4 893.5 L306.8 892.5 L301.1 891.5 L304.9 895.4 L310.6 900.1 L314.4 906.8 L317.3 917.3 L317.3 926.8 L314.4 938.3 L306.8 951.6 L299.2 963.0 L295.3 975.4 L298.2 985.9 L298.8 997.3 L293.4 1010.7 L289.6 1018.3 L282.0 1025.9 L280.1 1031.7 L283.0 1041.2 L281.6 1047.9 L283.0 1052.6 L297.3 1051.7 L308.7 1054.5 L322.0 1061.2 L329.7 1056.4 L343.0 1055.5 L360.2 1052.6 L369.7 1050.7 L375.4 1046.0 L374.5 1037.4 L376.4 1025.0 L381.1 1016.4 L388.8 1005.0 L401.1 990.7"/><path class="b" d="M317.3 911.9 L327.8 911.2 L340.1 906.2 L345.9 907.8 L350.6 915.4 L354.4 924.9 L359.2 929.1 L367.8 923.0 L375.4 913.5 L383.0 907.8 L390.7 907.4 L401.1 909.7"/><path class="b" d="M401.1 1044.6 L388.8 1050.7 L386.8 1054.5 L373.5 1058.3 L373.5 1064.1 L365.9 1059.3 L343.0 1061.2 L339.2 1062.2 L345.9 1073.6 L352.5 1083.1 L355.4 1090.8 L355.4 1103.1"/><path class="b" d="M381.1 1024.0 L385.9 1016.4 L390.7 1013.5 L390.7 1017.4 L384.9 1024.0 L381.1 1025.9 L381.1 1024.0"/><path class="b" d="M396.4 1001.2 L398.3 1009.7"/></g>
<g clip-path="url(#t13)"><path class="b" d="M464.8 861.0 L461.0 866.2 L447.7 866.8 L434.3 867.7 L424.8 869.6 L419.1 875.3 L413.3 883.0 L407.6 886.8 L401.9 888.7 L400.0 895.4 L401.0 907.8 L403.8 917.3 L411.4 921.1 L421.0 923.4 L429.5 921.5 L436.2 927.8 L444.2 933.5 L438.1 936.3 L426.7 938.3 L422.9 940.2 L426.7 945.9 L432.4 951.6 L440.0 954.5 L447.7 956.4 L449.2 961.1 L455.3 959.2 L451.5 964.9 L444.8 971.6 L440.0 973.5 L435.3 975.4 L438.1 978.3 L432.4 984.0 L426.7 995.4 L419.1 1006.9 L411.4 1016.4 L407.6 1025.9 L413.3 1034.5 L416.2 1035.5 L418.1 1041.2 L423.8 1044.6 L433.4 1041.6 L440.0 1041.2 L445.8 1044.6 L453.4 1046.0 L459.1 1042.1 L464.8 1031.7 L469.6 1023.1 L472.4 1021.2 L478.2 1025.0 L484.8 1026.3 L493.4 1023.1 L494.4 1033.6 L499.1 1036.4 L509.6 1037.4 L518.2 1040.2 L520.1 1043.1 L516.3 1050.7 L506.8 1056.4 L493.4 1064.1 L485.8 1071.7 L482.9 1077.4 L484.8 1086.0 L487.7 1089.8 L499.1 1092.7 L508.7 1095.5 L516.3 1092.7 L523.9 1095.5 L531.5 1096.5 L541.1 1094.2 L548.7 1092.7 L558.2 1099.3 L562.0 1103.1"/><path class="b" d="M399.0 993.5 L408.6 982.1 L419.1 972.6 L433.4 970.7 L445.8 966.8 L455.3 959.2 L447.7 968.8 L438.1 974.5 L436.2 979.2"/><path class="b" d="M399.0 996.4 L409.5 985.0 L420.0 975.4 L434.3 973.1"/><path class="b" d="M399.0 1014.5 L407.6 1019.3 L411.4 1024.0 L416.2 1035.5"/><path class="b" d="M399.0 1043.1 L407.6 1038.3 L416.2 1035.5"/><path class="b" d="M509.6 1037.4 L518.2 1031.7 L529.6 1028.8 L537.3 1025.0 L546.8 1022.1 L550.6 1017.4 L562.0 1018.3 L568.7 1015.5 L577.3 1021.2 L588.7 1025.0 L594.4 1030.7 L600.2 1033.6 L603.6 1036.4 L608.7 1029.8 L602.1 1024.0 L598.3 1018.3 L599.2 1012.6"/><path class="b" d="M641.1 892.5 L632.6 900.1 L624.9 909.7 L617.3 913.5 L607.8 915.4 L598.3 923.0 L586.8 930.6 L575.4 938.3 L565.8 944.9 L559.2 955.4 L562.0 959.2 L567.8 963.0 L573.5 970.7 L579.2 976.4 L588.7 981.1 L590.6 984.0 L583.0 987.8 L582.0 995.4 L577.3 1002.1 L581.1 1006.9 L590.6 1010.7 L598.3 1012.6"/><path class="b" d="M590.6 983.0 L598.3 978.3 L607.8 976.4 L614.5 977.3 L615.4 985.9 L618.3 986.9 L619.2 982.1 L626.8 981.1 L632.6 984.0 L636.4 989.7 L637.3 995.4 L641.1 996.4"/><path class="b" d="M442.9 1103.1 L444.8 1095.5 L450.5 1093.6 L452.4 1087.9 L457.2 1086.9 L456.2 1093.6 L461.0 1097.4 L459.1 1103.1"/><path class="b" d="M407.6 1102.6 L421.0 1098.9 L430.5 1102.6"/></g>
<g clip-path="url(#t14)"><path class="b" d="M639.0 871.5 L645.7 875.3 L651.8 880.1 L649.5 886.8 L639.0 892.5"/><path class="b" d="M782.0 861.0 L788.7 865.8 L798.2 868.7 L803.9 873.4 L802.0 883.0 L800.1 890.6 L801.1 898.2 L805.8 905.8 L813.5 912.5 L818.2 916.3 L830.6 918.2 L836.3 911.6 L842.1 904.9 L839.2 899.2 L842.1 894.4 L851.6 891.0 L862.1 889.6 L861.1 898.2 L862.1 905.8 L868.8 906.8 L872.6 900.1 L874.5 886.8 L871.6 882.0 L864.0 883.4 L867.8 878.2 L881.1 880.1"/><path class="b" d="M818.2 917.3 L816.3 924.9 L818.2 932.5 L824.9 937.3 L836.3 940.2 L841.1 945.9 L840.2 953.5 L844.9 958.3 L851.6 957.3 L859.2 955.4 L868.8 955.4 L876.4 958.3 L881.1 961.1"/><path class="b" d="M639.0 996.4 L645.7 993.5 L651.4 989.7 L658.1 989.3 L664.8 995.4 L671.5 1002.1 L678.1 1005.9 L689.6 1005.9 L698.1 1003.1 L703.9 998.3 L709.6 1000.2 L716.3 999.3 L723.9 1002.1 L729.6 999.3 L733.4 994.5 L741.0 992.6 L748.7 990.7 L749.6 983.0 L753.4 982.1 L754.4 985.0 L762.0 986.9 L767.7 990.7 L769.6 997.3 L773.4 1005.0 L778.2 1010.7 L781.1 1016.4 L781.1 1020.2 L784.9 1025.9 L790.6 1029.8 L798.2 1030.7 L805.8 1025.0 L813.5 1021.2 L821.1 1020.2 L826.8 1023.1 L827.8 1029.8 L824.0 1034.5 L824.0 1038.3"/><path class="b" d="M881.1 986.9 L876.4 995.4 L870.7 1001.2 L864.0 1005.0 L867.8 1007.8 L865.9 1016.4 L857.3 1023.1 L847.8 1025.0 L840.2 1027.8 L836.3 1032.6 L826.8 1036.4 L817.3 1042.1 L812.5 1048.8 L809.7 1058.3 L808.7 1067.9 L814.4 1072.6 L811.6 1081.2 L803.9 1088.8 L800.1 1098.4 L799.2 1103.1"/></g>
<g clip-path="url(#t15)"><path class="b" d="M879.0 881.1 L889.5 884.9 L906.7 890.2 L918.1 888.7 L924.8 889.6 L928.6 894.4 L932.4 901.1 L937.2 903.9 L939.1 909.7 L936.2 915.4 L927.7 924.0 L931.5 930.6 L935.3 936.3 L944.8 937.9 L956.3 939.2 L962.0 934.4 L971.5 936.3 L980.1 938.3 L982.0 943.0 L986.8 945.3 L992.5 940.2 L1009.6 941.7 L1030.6 943.0 L1043.0 938.3 L1043.6 951.6 L1045.8 955.4 L1049.7 958.3 L1059.2 958.3 L1063.0 960.2 L1069.7 967.4 L1079.2 967.4 L1085.5 974.5 L1097.3 962.1 L1114.5 951.6 L1116.4 965.9 L1121.1 966.8"/><path class="b" d="M879.0 961.1 L882.9 965.9 L883.8 970.7 L882.9 973.5 L885.7 977.3 L884.8 981.1 L879.0 985.9"/></g>
<g clip-path="url(#t16)"><path class="b" d="M356.3 1101.0 L354.4 1108.7 L345.9 1115.3 L344.0 1120.1 L347.8 1122.0 L356.3 1121.1 L362.1 1118.8 L379.2 1116.9 L392.6 1114.4 L401.1 1111.9"/></g>
<g clip-path="url(#t17)"><path class="b" d="M399.0 1111.5 L405.7 1106.8 L413.3 1103.9 L421.0 1105.8 L430.5 1104.9 L441.0 1105.8 L450.5 1105.8 L451.5 1101.0"/><path class="b" d="M413.3 1106.2 L419.1 1109.6 L428.6 1112.5 L438.1 1114.4 L447.7 1116.9 L447.3 1120.1 L457.2 1119.5 L468.6 1122.0 L482.0 1124.9 L494.4 1121.4 L483.9 1120.1 L474.3 1118.2 L465.8 1115.3 L461.0 1111.5 L459.5 1105.8 L460.6 1101.0"/><path class="b" d="M419.1 1109.2 L428.6 1115.3 L438.1 1123.0 L444.8 1130.6 L449.2 1138.2 L451.1 1149.7 L453.4 1163.0 L454.3 1178.3 L450.5 1185.9 L446.7 1195.4 L443.8 1205.9 L437.2 1218.3 L431.5 1228.8 L424.8 1233.2 L432.4 1237.7 L442.9 1239.6 L446.7 1246.9 L448.6 1256.4 L447.7 1264.0 L445.8 1273.6 L443.8 1285.0 L446.7 1289.8 L459.1 1286.0 L458.1 1291.7 L447.7 1294.2 L444.8 1304.1 L441.0 1318.4 L444.8 1325.0 L448.6 1330.8 L449.2 1343.1"/><path class="b" d="M447.7 1265.0 L453.4 1266.9 L460.0 1265.6 L464.8 1269.8 L470.5 1274.5 L476.3 1280.8 L480.1 1277.0 L487.7 1280.2 L493.4 1281.2 L498.2 1278.3 L500.1 1269.8 L505.8 1264.0 L509.6 1259.3 L518.2 1256.4 L533.4 1254.1 L544.9 1254.9 L552.5 1255.5 L560.1 1258.7 L565.8 1248.8 L568.7 1239.3 L569.7 1227.8 L566.8 1220.2 L562.0 1217.3 L554.4 1216.4 L546.8 1211.6 L543.0 1204.9 L543.9 1199.2 L546.8 1195.4 L552.5 1196.4 L555.4 1189.7 L561.1 1185.9 L567.8 1188.2 L570.6 1180.2 L581.1 1179.2 L584.9 1174.4 L598.3 1170.6 L608.7 1167.8 L607.8 1159.2 L602.1 1147.8 L600.2 1144.3 L588.7 1139.2 L577.3 1137.3 L565.8 1132.5 L569.7 1121.1 L563.9 1115.3 L561.1 1107.7 L560.1 1101.0"/><path class="b" d="M601.1 1143.9 L613.5 1143.6 L624.9 1143.0 L632.6 1147.4 L641.1 1148.7"/></g>
<g clip-path="url(#t18)"><path class="b" d="M639.0 1148.7 L643.8 1147.4 L653.3 1149.3 L661.9 1155.8 L680.0 1162.0 L695.3 1163.4 L704.8 1166.8 L717.2 1172.2 L731.5 1172.9 L742.9 1174.8 L757.2 1174.8 L762.0 1167.8 L767.7 1164.0 L775.3 1161.1 L781.1 1157.3 L783.4 1150.6 L790.6 1148.7 L798.2 1145.8 L811.6 1142.4 L813.9 1144.9 L818.2 1154.4 L823.0 1158.8 L830.6 1162.6 L835.4 1172.5 L839.2 1178.3 L844.9 1180.2 L849.7 1179.2 L855.4 1180.5 L863.0 1179.8 L869.7 1177.3 L873.5 1174.4 L881.1 1173.5"/><path class="b" d="M797.3 1101.0 L799.2 1108.7 L793.5 1115.3 L802.0 1120.1 L811.6 1128.7 L821.1 1138.2 L830.6 1147.8 L840.2 1156.3 L844.9 1167.8 L849.7 1178.3"/><path class="b" d="M880.6 1198.3 L878.3 1210.7 L873.5 1216.4 L866.8 1217.3 L859.2 1214.5 L850.6 1212.6 L846.8 1216.4 L843.0 1222.1 L834.4 1224.0 L826.8 1224.0 L816.3 1226.3 L813.9 1228.8 L815.4 1235.4 L812.5 1245.0 L807.8 1256.4 L802.0 1264.0 L798.2 1267.8 L788.7 1274.5 L777.3 1282.1 L771.5 1289.8 L768.7 1300.3 L766.8 1308.8 L756.3 1318.4 L755.3 1323.1 L752.5 1326.9 L754.4 1332.7 L759.1 1338.4 L763.9 1343.1"/><path class="b" d="M708.6 1342.6 L716.3 1341.2 L723.9 1342.6"/><path class="b" d="M732.5 1343.1 L737.2 1339.3 L743.9 1336.1 L754.4 1335.3"/></g>
<g clip-path="url(#t19)"><path class="b" d="M879.0 1173.5 L889.5 1173.5 L893.3 1175.4 L888.6 1187.8 L882.9 1197.3 L879.0 1201.1"/><path class="b" d="M893.3 1174.4 L896.2 1172.5 L908.6 1176.0 L927.7 1181.1 L929.9 1184.9 L924.8 1191.6 L925.8 1195.4 L935.3 1198.8 L948.6 1199.6 L960.1 1199.2 L969.6 1200.7 L975.3 1204.9 L980.1 1210.7 L982.0 1216.0 L990.6 1216.8 L1002.0 1217.9 L1007.7 1213.5 L1013.4 1208.8 L1019.2 1208.8 L1026.8 1212.6 L1031.5 1216.4 L1033.5 1222.1 L1045.8 1225.9 L1059.2 1230.1 L1070.6 1233.5 L1075.4 1236.4 L1079.2 1244.0 L1089.3 1243.4 L1086.8 1252.6 L1084.4 1259.3 L1089.7 1269.4 L1084.0 1271.7 L1074.4 1269.8 L1068.7 1274.5 L1067.8 1285.0 L1064.9 1287.3 L1060.1 1286.0 L1058.2 1280.2 L1053.5 1278.9 L1043.9 1279.3 L1028.7 1282.1 L1013.4 1285.4 L1006.8 1288.8 L1002.0 1295.5 L998.2 1300.3 L992.5 1304.1 L992.1 1309.8 L998.2 1313.2 L1013.4 1312.3 L1024.9 1317.0 L1023.0 1324.1 L1030.6 1331.7 L1033.5 1343.1"/><path class="b" d="M1076.3 1235.4 L1082.1 1231.6 L1091.6 1226.9 L1104.9 1225.0 L1121.1 1223.0"/></g>
<g clip-path="url(#t21)"><path class="b" d="M448.6 1341.0 L446.7 1353.4 L442.9 1364.9 L438.1 1376.3 L431.5 1383.0 L427.6 1387.8 L431.5 1396.3 L428.6 1405.9 L422.9 1410.6 L418.1 1414.4 L420.0 1421.1 L416.2 1429.7 L411.4 1437.3 L405.7 1444.9 L401.9 1451.6 L401.0 1456.4 L404.8 1456.0 L408.6 1459.2 L413.3 1460.6 L420.0 1456.4 L428.6 1451.0 L433.4 1452.6 L439.1 1448.8 L447.7 1446.8 L457.2 1442.7 L464.8 1442.1 L475.3 1442.1 L484.8 1434.5 L499.1 1432.5 L510.6 1434.5 L522.0 1439.2 L533.4 1442.7 L544.9 1441.1 L552.5 1438.8 L560.1 1441.1 L569.7 1444.0 L581.1 1442.1 L596.3 1441.1 L605.9 1444.6 L617.3 1446.5 L628.8 1450.7 L641.1 1458.7"/><path class="b" d="M446.7 1355.0 L457.2 1358.8 L465.8 1365.8 L476.3 1366.4 L486.7 1370.6 L491.5 1366.4 L503.9 1364.9 L514.4 1369.6 L526.8 1372.1 L535.3 1369.6 L539.2 1363.4 L548.7 1360.7 L563.9 1358.2 L572.5 1359.5 L574.4 1366.8 L578.2 1369.6 L588.7 1375.4 L598.3 1381.1 L607.8 1383.0 L623.0 1383.0 L632.6 1378.2 L641.1 1375.4"/></g>
<g clip-path="url(#t22)"><path class="b" d="M639.0 1366.8 L647.6 1365.3 L659.1 1364.5 L664.8 1361.1 L667.6 1358.2 L674.3 1355.3 L683.8 1352.5 L695.3 1347.7 L706.7 1344.3 L716.3 1343.0 L725.8 1343.5 L731.5 1343.0 L734.4 1341.0"/><path class="b" d="M763.9 1341.0 L767.7 1347.7 L769.6 1355.3 L770.6 1361.1 L772.5 1368.7 L773.4 1380.1 L775.7 1391.6 L775.7 1399.2 L777.6 1408.7 L780.1 1417.3 L782.0 1423.0 L783.9 1419.2"/><path class="b" d="M639.0 1458.3 L642.9 1461.1 L645.7 1465.0 L646.7 1461.1 L652.4 1459.2 L659.1 1460.6 L668.6 1460.2 L675.3 1461.7 L682.9 1462.5 L690.5 1457.3 L704.8 1448.8 L720.1 1440.2 L735.3 1431.2 L746.8 1425.9 L758.2 1420.5 L769.6 1419.2 L777.3 1420.2 L782.0 1423.0 L784.9 1418.6 L792.5 1418.6 L800.1 1414.4 L811.6 1413.5 L830.6 1412.9 L849.7 1412.5 L859.2 1412.2 L849.7 1411.0 L855.4 1408.3 L864.9 1410.2 L874.5 1413.5 L881.1 1416.0"/><path class="b" d="M650.5 1466.9 L659.1 1467.8 L668.6 1465.9 L674.3 1463.0 L675.3 1465.9 L670.5 1468.8 L661.0 1470.7 L653.3 1469.3 L650.5 1466.9"/><path class="b" d="M640.0 1371.5 L641.9 1375.4"/></g>
<g clip-path="url(#t23)"><path class="b" d="M879.0 1415.4 L887.6 1419.2 L894.3 1421.1 L897.5 1419.2 L892.4 1412.5 L888.0 1407.2 L895.3 1405.9 L902.9 1401.1 L910.5 1395.4 L915.3 1391.6 L908.6 1401.1 L901.0 1408.7 L899.1 1415.4 L903.8 1422.1 L914.3 1427.8 L925.8 1434.5 L935.3 1436.9 L946.7 1443.0 L960.1 1450.7 L975.3 1459.2 L990.6 1467.8 L1002.0 1475.4 L1009.6 1483.1 L1015.3 1492.6 L1021.1 1502.1 L1026.8 1507.8 L1034.4 1508.2 L1037.3 1504.0 L1036.7 1494.5 L1038.2 1487.8 L1045.8 1484.0 L1057.3 1483.1 L1065.9 1482.1 L1073.5 1478.3 L1067.8 1485.0 L1059.2 1484.0 L1070.6 1486.9 L1082.1 1489.7 L1093.5 1496.4 L1106.8 1497.9 L1121.1 1499.3"/><path class="b" d="M1033.5 1341.0 L1038.2 1347.7 L1043.9 1355.3 L1043.9 1360.1 L1038.2 1363.0 L1032.5 1364.9 L1032.5 1375.4 L1027.7 1380.1 L1028.7 1384.9 L1035.4 1388.7 L1038.2 1393.5 L1034.4 1403.0 L1035.4 1414.4 L1037.3 1422.1 L1035.4 1435.4 L1028.7 1443.0 L1028.7 1452.6 L1034.4 1465.9 L1028.7 1478.3 L1036.3 1485.0 L1038.2 1487.8"/><path class="b" d="M1038.2 1505.9 L1032.5 1512.6 L1023.0 1515.5 L1016.3 1520.2 L1014.4 1526.9 L1017.3 1534.5 L1022.0 1541.2 L1024.9 1548.8 L1030.6 1552.6 L1040.1 1553.2 L1049.7 1554.0 L1057.3 1559.3 L1064.0 1566.0 L1065.9 1570.8 L1064.0 1576.5 L1067.8 1581.2 L1076.3 1579.3 L1070.6 1582.6"/><path class="b" d="M1044.9 1573.6 L1049.7 1572.7 L1055.4 1576.5 L1061.1 1582.6"/></g>
<path class="b" d="M654.7 848.7 L647.7 852.5 L642.6 858.2 L640.1 864.6 L637.3 869.7 L642.6 873.5 L650.9 879.8"/>
</g>
<rect x="160" y="142" width="960" height="1440" fill="none" stroke="#000" stroke-width="1.6"/>
<line x1="160" y1="1582" x2="160" y2="1588.5" stroke="#000" stroke-width="1.6"/>
<line x1="400" y1="1582" x2="400" y2="1588.5" stroke="#000" stroke-width="1.6"/>
<line x1="640" y1="1582" x2="640" y2="1588.5" stroke="#000" stroke-width="1.6"/>
<line x1="880" y1="1582" x2="880" y2="1588.5" stroke="#000" stroke-width="1.6"/>
<line x1="1120" y1="1582" x2="1120" y2="1588.5" stroke="#000" stroke-width="1.6"/>
<line x1="153.5" y1="142" x2="160" y2="142" stroke="#000" stroke-width="1.6"/>
<line x1="153.5" y1="502" x2="160" y2="502" stroke="#000" stroke-width="1.6"/>
<line x1="153.5" y1="862" x2="160" y2="862" stroke="#000" stroke-width="1.6"/>
<line x1="153.5" y1="1222" x2="160" y2="1222" stroke="#000" stroke-width="1.6"/>
<line x1="153.5" y1="1582" x2="160" y2="1582" stroke="#000" stroke-width="1.6"/>
<text class="l" text-anchor="end" transform="translate(143.5,156.5) scale(1.12,1.08)">42.5°N</text>
<text class="l" text-anchor="end" transform="translate(143.5,516.5) scale(1.12,1.08)">41°N</text>
<text class="l" text-anchor="end" transform="translate(143.5,876.5) scale(1.12,1.08)">39.5°N</text>
<text class="l" text-anchor="end" transform="translate(143.5,1236.5) scale(1.12,1.08)">38°N</text>
<text class="l" text-anchor="end" transform="translate(143.5,1596.5) scale(1.12,1.08)">36.5°N</text>
<text class="l" text-anchor="middle" transform="translate(159.5,1625) scale(1.12,1.08)">10°W</text>
<text class="l" text-anchor="middle" transform="translate(399.5,1625) scale(1.12,1.08)">9°W</text>
<text class="l" text-anchor="middle" transform="translate(639.5,1625) scale(1.12,1.08)">8°W</text>
<text class="l" text-anchor="middle" transform="translate(879.5,1625) scale(1.12,1.08)">7°W</text>
<text class="l" text-anchor="middle" transform="translate(1119.5,1625) scale(1.12,1.08)">6°W</text>
<rect x="1122.5" y="1496.99" width="35.2" height="85.3059" fill="#000080"/>
<rect x="1122.5" y="1412.29" width="35.2" height="85.3059" fill="#000080"/>
<rect x="1122.5" y="1327.58" width="35.2" height="85.3059" fill="#0000ad"/>
<rect x="1122.5" y="1242.88" width="35.2" height="85.3059" fill="#0000ff"/>
<rect x="1122.5" y="1158.17" width="35.2" height="85.3059" fill="#0054ff"/>
<rect x="1122.5" y="1073.46" width="35.2" height="85.3059" fill="#00a8ff"/>
<rect x="1122.5" y="988.759" width="35.2" height="85.3059" fill="#16ffe1"/>
<rect x="1122.5" y="904.053" width="35.2" height="85.3059" fill="#5aff9d"/>
<rect x="1122.5" y="819.347" width="35.2" height="85.3059" fill="#9dff5a"/>
<rect x="1122.5" y="734.641" width="35.2" height="85.3059" fill="#e4ff13"/>
<rect x="1122.5" y="649.935" width="35.2" height="85.3059" fill="#ffbd00"/>
<rect x="1122.5" y="565.229" width="35.2" height="85.3059" fill="#ff6f00"/>
<rect x="1122.5" y="480.524" width="35.2" height="85.3059" fill="#ff1e00"/>
<rect x="1122.5" y="395.818" width="35.2" height="85.3059" fill="#ad0000"/>
<rect x="1122.5" y="311.112" width="35.2" height="85.3059" fill="#800000"/>
<rect x="1122.5" y="226.406" width="35.2" height="85.3059" fill="#800000"/>
<rect x="1122.5" y="141.7" width="35.2" height="85.3059" fill="#800000"/>
<line x1="1122.5" y1="1497.29" x2="1164.8" y2="1497.29" stroke="#000" stroke-width="1.3"/>
<text class="l" text-anchor="start" transform="translate(1174,1511.79) scale(1.12,1.08)">0</text>
<line x1="1122.5" y1="1412.59" x2="1164.8" y2="1412.59" stroke="#000" stroke-width="1.3"/>
<text class="l" text-anchor="start" transform="translate(1174,1427.09) scale(1.12,1.08)">10</text>
<line x1="1122.5" y1="1327.88" x2="1164.8" y2="1327.88" stroke="#000" stroke-width="1.3"/>
<text class="l" text-anchor="start" transform="translate(1174,1342.38) scale(1.12,1.08)">15</text>
<line x1="1122.5" y1="1243.18" x2="1164.8" y2="1243.18" stroke="#000" stroke-width="1.3"/>
<text class="l" text-anchor="start" transform="translate(1174,1257.68) scale(1.12,1.08)">20</text>
<line x1="1122.5" y1="1158.47" x2="1164.8" y2="1158.47" stroke="#000" stroke-width="1.3"/>
<text class="l" text-anchor="start" transform="translate(1174,1172.97) scale(1.12,1.08)">25</text>
<line x1="1122.5" y1="1073.76" x2="1164.8" y2="1073.76" stroke="#000" stroke-width="1.3"/>
<text class="l" text-anchor="start" transform="translate(1174,1088.26) scale(1.12,1.08)">30</text>
<line x1="1122.5" y1="989.059" x2="1164.8" y2="989.059" stroke="#000" stroke-width="1.3"/>
<text class="l" text-anchor="start" transform="translate(1174,1003.56) scale(1.12,1.08)">35</text>
<line x1="1122.5" y1="904.353" x2="1164.8" y2="904.353" stroke="#000" stroke-width="1.3"/>
<text class="l" text-anchor="start" transform="translate(1174,918.853) scale(1.12,1.08)">40</text>
<line x1="1122.5" y1="819.647" x2="1164.8" y2="819.647" stroke="#000" stroke-width="1.3"/>
<text class="l" text-anchor="start" transform="translate(1174,834.147) scale(1.12,1.08)">45</text>
<line x1="1122.5" y1="734.941" x2="1164.8" y2="734.941" stroke="#000" stroke-width="1.3"/>
<text class="l" text-anchor="start" transform="translate(1174,749.441) scale(1.12,1.08)">50</text>
<line x1="1122.5" y1="650.235" x2="1164.8" y2="650.235" stroke="#000" stroke-width="1.3"/>
<text class="l" text-anchor="start" transform="translate(1174,664.735) scale(1.12,1.08)">55</text>
<line x1="1122.5" y1="565.529" x2="1164.8" y2="565.529" stroke="#000" stroke-width="1.3"/>
<text class="l" text-anchor="start" transform="translate(1174,580.029) scale(1.12,1.08)">60</text>
<line x1="1122.5" y1="480.824" x2="1164.8" y2="480.824" stroke="#000" stroke-width="1.3"/>
<text class="l" text-anchor="start" transform="translate(1174,495.324) scale(1.12,1.08)">65</text>
<line x1="1122.5" y1="396.118" x2="1164.8" y2="396.118" stroke="#000" stroke-width="1.3"/>
<text class="l" text-anchor="start" transform="translate(1174,410.618) scale(1.12,1.08)">70</text>
<line x1="1122.5" y1="311.412" x2="1164.8" y2="311.412" stroke="#000" stroke-width="1.3"/>
<text class="l" text-anchor="start" transform="translate(1174,325.912) scale(1.12,1.08)">80</text>
<line x1="1122.5" y1="226.706" x2="1164.8" y2="226.706" stroke="#000" stroke-width="1.3"/>
<text class="l" text-anchor="start" transform="translate(1174,241.206) scale(1.12,1.08)">100</text>
</svg>
</body></html>
